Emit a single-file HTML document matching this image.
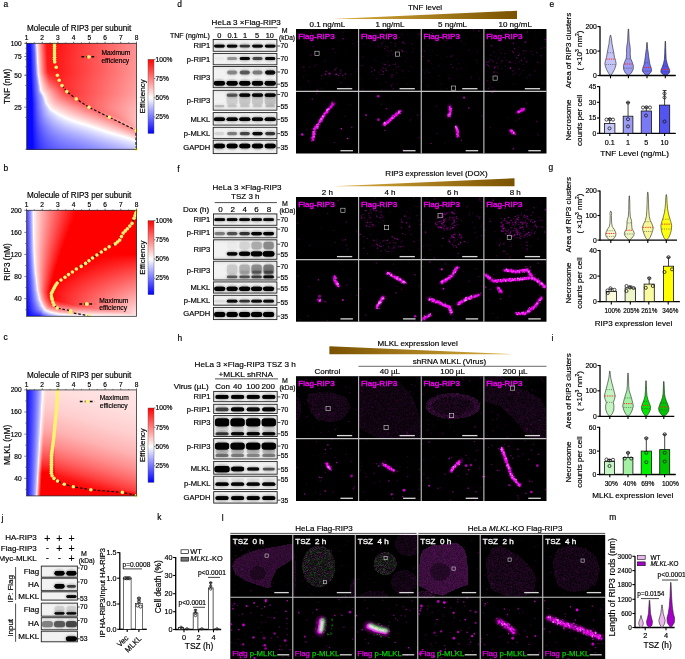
<!DOCTYPE html>
<html><head><meta charset="utf-8"><title>Figure</title>
<style>
html,body{margin:0;padding:0;background:#fff;}
body{width:685px;height:659px;overflow:hidden;position:relative;font-family:"Liberation Sans",sans-serif;}
canvas{position:absolute;left:0;top:0;}
svg{position:absolute;left:0;top:0;font-family:"Liberation Sans",sans-serif;}
</style></head><body>
<canvas id="cv" width="685" height="659"></canvas>
<svg width="685" height="659" viewBox="0 0 685 659">
<defs>
<linearGradient id="gold" x1="0" y1="0" x2="1" y2="0"><stop offset="0" stop-color="#dcb040"/><stop offset="1" stop-color="#7a5200"/></linearGradient>
<linearGradient id="goldr" x1="0" y1="0" x2="1" y2="0"><stop offset="0" stop-color="#7a5200"/><stop offset="1" stop-color="#dcb040"/></linearGradient>
<linearGradient id="cbar" x1="0" y1="0" x2="0" y2="1"><stop offset="0" stop-color="#ff0000"/><stop offset="0.52" stop-color="#ffffff"/><stop offset="1" stop-color="#0000ff"/></linearGradient>
</defs>
<text x="3.50" y="6.80" font-size="8.4" stroke="#000" stroke-width="0.18">a</text>
<text x="3.50" y="171.00" font-size="8.4" stroke="#000" stroke-width="0.18">b</text>
<text x="3.50" y="340.00" font-size="8.4" stroke="#000" stroke-width="0.18">c</text>
<path d="M62.00,85.60 L66.80,91.60 L76.20,98.90 L89.00,107.30 L109.40,117.30 L136.00,130.30 L136.00,149.30" fill="none" stroke="#111" stroke-width="1.2" stroke-dasharray="2.6 1.9"/>
<circle cx="54.50" cy="44.10" r="1.8" fill="#fff272"/>
<circle cx="54.50" cy="46.30" r="1.8" fill="#fff272"/>
<circle cx="54.50" cy="48.50" r="1.8" fill="#fff272"/>
<circle cx="54.50" cy="50.70" r="1.8" fill="#fff272"/>
<circle cx="54.50" cy="52.90" r="1.8" fill="#fff272"/>
<circle cx="54.50" cy="55.10" r="1.8" fill="#fff272"/>
<circle cx="54.50" cy="57.30" r="1.8" fill="#fff272"/>
<circle cx="54.50" cy="59.50" r="1.8" fill="#fff272"/>
<circle cx="54.70" cy="61.90" r="1.8" fill="#fff272"/>
<circle cx="56.20" cy="67.30" r="1.8" fill="#fff272"/>
<circle cx="57.40" cy="75.30" r="1.8" fill="#fff272"/>
<circle cx="59.20" cy="80.30" r="1.8" fill="#fff272"/>
<circle cx="62.00" cy="85.60" r="1.8" fill="#fff272"/>
<circle cx="66.80" cy="91.60" r="1.8" fill="#fff272"/>
<circle cx="76.20" cy="98.90" r="1.8" fill="#fff272"/>
<circle cx="89.00" cy="107.30" r="1.8" fill="#fff272"/>
<circle cx="109.40" cy="117.30" r="1.8" fill="#fff272"/>
<circle cx="136.00" cy="130.30" r="1.8" fill="#fff272"/>
<circle cx="136.00" cy="149.30" r="1.8" fill="#fff272"/>
<rect x="26.50" y="43.30" width="110.00" height="106.00" fill="none" stroke="#333" stroke-width="0.8"/>
<text x="79.20" y="30.90" font-size="8.2" text-anchor="middle" textLength="104.2" lengthAdjust="spacingAndGlyphs" stroke="#000" stroke-width="0.18">Molecule of RIP3 per subunit</text>
<text x="26.50" y="40.10" font-size="6.6" text-anchor="middle" stroke="#000" stroke-width="0.18">1</text>
<line x1="26.50" y1="43.30" x2="26.50" y2="41.70" stroke="#333" stroke-width="0.7"/>
<line x1="34.36" y1="43.30" x2="34.36" y2="42.30" stroke="#333" stroke-width="0.6"/>
<text x="42.21" y="40.10" font-size="6.6" text-anchor="middle" stroke="#000" stroke-width="0.18">2</text>
<line x1="42.21" y1="43.30" x2="42.21" y2="41.70" stroke="#333" stroke-width="0.7"/>
<line x1="50.07" y1="43.30" x2="50.07" y2="42.30" stroke="#333" stroke-width="0.6"/>
<text x="57.93" y="40.10" font-size="6.6" text-anchor="middle" stroke="#000" stroke-width="0.18">3</text>
<line x1="57.93" y1="43.30" x2="57.93" y2="41.70" stroke="#333" stroke-width="0.7"/>
<line x1="65.79" y1="43.30" x2="65.79" y2="42.30" stroke="#333" stroke-width="0.6"/>
<text x="73.64" y="40.10" font-size="6.6" text-anchor="middle" stroke="#000" stroke-width="0.18">4</text>
<line x1="73.64" y1="43.30" x2="73.64" y2="41.70" stroke="#333" stroke-width="0.7"/>
<line x1="81.50" y1="43.30" x2="81.50" y2="42.30" stroke="#333" stroke-width="0.6"/>
<text x="89.36" y="40.10" font-size="6.6" text-anchor="middle" stroke="#000" stroke-width="0.18">5</text>
<line x1="89.36" y1="43.30" x2="89.36" y2="41.70" stroke="#333" stroke-width="0.7"/>
<line x1="97.21" y1="43.30" x2="97.21" y2="42.30" stroke="#333" stroke-width="0.6"/>
<text x="105.07" y="40.10" font-size="6.6" text-anchor="middle" stroke="#000" stroke-width="0.18">6</text>
<line x1="105.07" y1="43.30" x2="105.07" y2="41.70" stroke="#333" stroke-width="0.7"/>
<line x1="112.93" y1="43.30" x2="112.93" y2="42.30" stroke="#333" stroke-width="0.6"/>
<text x="120.79" y="40.10" font-size="6.6" text-anchor="middle" stroke="#000" stroke-width="0.18">7</text>
<line x1="120.79" y1="43.30" x2="120.79" y2="41.70" stroke="#333" stroke-width="0.7"/>
<line x1="128.64" y1="43.30" x2="128.64" y2="42.30" stroke="#333" stroke-width="0.6"/>
<text x="136.50" y="40.10" font-size="6.6" text-anchor="middle" stroke="#000" stroke-width="0.18">8</text>
<line x1="136.50" y1="43.30" x2="136.50" y2="41.70" stroke="#333" stroke-width="0.7"/>
<rect x="148.00" y="59.30" width="6.00" height="74.20" fill="url(#cbar)" stroke="#555" stroke-width="0.4"/>
<line x1="154.00" y1="59.30" x2="155.50" y2="59.30" stroke="#333" stroke-width="0.6"/>
<text x="155.60" y="61.60" font-size="6.6" stroke="#000" stroke-width="0.18">100%</text>
<line x1="154.00" y1="78.52" x2="155.50" y2="78.52" stroke="#333" stroke-width="0.6"/>
<text x="155.60" y="80.82" font-size="6.6" stroke="#000" stroke-width="0.18">75%</text>
<line x1="154.00" y1="97.75" x2="155.50" y2="97.75" stroke="#333" stroke-width="0.6"/>
<text x="155.60" y="100.05" font-size="6.6" stroke="#000" stroke-width="0.18">50%</text>
<line x1="154.00" y1="116.97" x2="155.50" y2="116.97" stroke="#333" stroke-width="0.6"/>
<text x="155.60" y="119.27" font-size="6.6" stroke="#000" stroke-width="0.18">25%</text>
<text x="145.20" y="96.40" font-size="8" text-anchor="middle" transform="rotate(-90 145.20 96.40)" stroke="#000" stroke-width="0.18">Efficiency</text>
<line x1="81.40" y1="56.80" x2="96.50" y2="56.80" stroke="#111" stroke-width="1.5" stroke-dasharray="2.8 2.2"/>
<circle cx="88.90" cy="56.80" r="1.9" fill="#fff272"/>
<text x="101.40" y="55.40" font-size="6.7" stroke="#000" stroke-width="0.18">Maximum</text>
<text x="101.40" y="63.20" font-size="6.7" stroke="#000" stroke-width="0.18">efficiency</text>
<path d="M136.50,210.80 L135.80,213.30 L135.00,215.80 L134.00,218.30 L132.00,223.40 L129.80,226.10 L127.50,228.70 L125.30,230.90 L123.20,233.10 L121.50,236.60 L119.70,240.10 L117.50,242.00 L115.30,243.90 L109.20,246.70 L105.30,249.30 L101.30,252.00 L96.90,255.00 L92.50,258.00 L89.00,260.80 L85.60,263.40 L81.20,266.40 L76.30,269.00 L72.40,272.00 L68.50,274.60 L65.00,277.20 L61.00,280.00 L57.20,283.00 L56.00,284.70 L54.90,286.50 L54.00,288.30 L53.10,290.00 L52.20,291.80 L51.40,293.50 L51.40,296.10 L51.70,297.80 L52.20,299.60 L52.90,302.30 L54.00,304.90 L57.20,308.10 L70.70,310.70 L70.70,312.60 L89.00,315.80" fill="none" stroke="#111" stroke-width="1.2" stroke-dasharray="2.6 1.9"/>
<circle cx="136.50" cy="210.80" r="1.8" fill="#fff272"/>
<circle cx="135.80" cy="213.30" r="1.8" fill="#fff272"/>
<circle cx="135.00" cy="215.80" r="1.8" fill="#fff272"/>
<circle cx="134.00" cy="218.30" r="1.8" fill="#fff272"/>
<circle cx="132.00" cy="223.40" r="1.8" fill="#fff272"/>
<circle cx="129.80" cy="226.10" r="1.8" fill="#fff272"/>
<circle cx="127.50" cy="228.70" r="1.8" fill="#fff272"/>
<circle cx="125.30" cy="230.90" r="1.8" fill="#fff272"/>
<circle cx="123.20" cy="233.10" r="1.8" fill="#fff272"/>
<circle cx="121.50" cy="236.60" r="1.8" fill="#fff272"/>
<circle cx="119.70" cy="240.10" r="1.8" fill="#fff272"/>
<circle cx="117.50" cy="242.00" r="1.8" fill="#fff272"/>
<circle cx="115.30" cy="243.90" r="1.8" fill="#fff272"/>
<circle cx="109.20" cy="246.70" r="1.8" fill="#fff272"/>
<circle cx="105.30" cy="249.30" r="1.8" fill="#fff272"/>
<circle cx="101.30" cy="252.00" r="1.8" fill="#fff272"/>
<circle cx="96.90" cy="255.00" r="1.8" fill="#fff272"/>
<circle cx="92.50" cy="258.00" r="1.8" fill="#fff272"/>
<circle cx="89.00" cy="260.80" r="1.8" fill="#fff272"/>
<circle cx="85.60" cy="263.40" r="1.8" fill="#fff272"/>
<circle cx="81.20" cy="266.40" r="1.8" fill="#fff272"/>
<circle cx="76.30" cy="269.00" r="1.8" fill="#fff272"/>
<circle cx="72.40" cy="272.00" r="1.8" fill="#fff272"/>
<circle cx="68.50" cy="274.60" r="1.8" fill="#fff272"/>
<circle cx="65.00" cy="277.20" r="1.8" fill="#fff272"/>
<circle cx="61.00" cy="280.00" r="1.8" fill="#fff272"/>
<circle cx="57.20" cy="283.00" r="1.8" fill="#fff272"/>
<circle cx="56.00" cy="284.70" r="1.8" fill="#fff272"/>
<circle cx="54.90" cy="286.50" r="1.8" fill="#fff272"/>
<circle cx="54.00" cy="288.30" r="1.8" fill="#fff272"/>
<circle cx="53.10" cy="290.00" r="1.8" fill="#fff272"/>
<circle cx="52.20" cy="291.80" r="1.8" fill="#fff272"/>
<circle cx="51.40" cy="293.50" r="1.8" fill="#fff272"/>
<circle cx="51.40" cy="296.10" r="1.8" fill="#fff272"/>
<circle cx="51.70" cy="297.80" r="1.8" fill="#fff272"/>
<circle cx="52.20" cy="299.60" r="1.8" fill="#fff272"/>
<circle cx="52.90" cy="302.30" r="1.8" fill="#fff272"/>
<circle cx="54.00" cy="304.90" r="1.8" fill="#fff272"/>
<circle cx="57.20" cy="308.10" r="1.8" fill="#fff272"/>
<circle cx="70.70" cy="310.70" r="1.8" fill="#fff272"/>
<circle cx="70.70" cy="312.60" r="1.8" fill="#fff272"/>
<circle cx="89.00" cy="315.80" r="1.8" fill="#fff272"/>
<rect x="26.50" y="210.30" width="110.00" height="106.00" fill="none" stroke="#333" stroke-width="0.8"/>
<text x="79.20" y="197.90" font-size="8.2" text-anchor="middle" textLength="104.2" lengthAdjust="spacingAndGlyphs" stroke="#000" stroke-width="0.18">Molecule of RIP3 per subunit</text>
<text x="26.50" y="207.10" font-size="6.6" text-anchor="middle" stroke="#000" stroke-width="0.18">1</text>
<line x1="26.50" y1="210.30" x2="26.50" y2="208.70" stroke="#333" stroke-width="0.7"/>
<line x1="34.36" y1="210.30" x2="34.36" y2="209.30" stroke="#333" stroke-width="0.6"/>
<text x="42.21" y="207.10" font-size="6.6" text-anchor="middle" stroke="#000" stroke-width="0.18">2</text>
<line x1="42.21" y1="210.30" x2="42.21" y2="208.70" stroke="#333" stroke-width="0.7"/>
<line x1="50.07" y1="210.30" x2="50.07" y2="209.30" stroke="#333" stroke-width="0.6"/>
<text x="57.93" y="207.10" font-size="6.6" text-anchor="middle" stroke="#000" stroke-width="0.18">3</text>
<line x1="57.93" y1="210.30" x2="57.93" y2="208.70" stroke="#333" stroke-width="0.7"/>
<line x1="65.79" y1="210.30" x2="65.79" y2="209.30" stroke="#333" stroke-width="0.6"/>
<text x="73.64" y="207.10" font-size="6.6" text-anchor="middle" stroke="#000" stroke-width="0.18">4</text>
<line x1="73.64" y1="210.30" x2="73.64" y2="208.70" stroke="#333" stroke-width="0.7"/>
<line x1="81.50" y1="210.30" x2="81.50" y2="209.30" stroke="#333" stroke-width="0.6"/>
<text x="89.36" y="207.10" font-size="6.6" text-anchor="middle" stroke="#000" stroke-width="0.18">5</text>
<line x1="89.36" y1="210.30" x2="89.36" y2="208.70" stroke="#333" stroke-width="0.7"/>
<line x1="97.21" y1="210.30" x2="97.21" y2="209.30" stroke="#333" stroke-width="0.6"/>
<text x="105.07" y="207.10" font-size="6.6" text-anchor="middle" stroke="#000" stroke-width="0.18">6</text>
<line x1="105.07" y1="210.30" x2="105.07" y2="208.70" stroke="#333" stroke-width="0.7"/>
<line x1="112.93" y1="210.30" x2="112.93" y2="209.30" stroke="#333" stroke-width="0.6"/>
<text x="120.79" y="207.10" font-size="6.6" text-anchor="middle" stroke="#000" stroke-width="0.18">7</text>
<line x1="120.79" y1="210.30" x2="120.79" y2="208.70" stroke="#333" stroke-width="0.7"/>
<line x1="128.64" y1="210.30" x2="128.64" y2="209.30" stroke="#333" stroke-width="0.6"/>
<text x="136.50" y="207.10" font-size="6.6" text-anchor="middle" stroke="#000" stroke-width="0.18">8</text>
<line x1="136.50" y1="210.30" x2="136.50" y2="208.70" stroke="#333" stroke-width="0.7"/>
<rect x="148.00" y="220.60" width="6.00" height="74.10" fill="url(#cbar)" stroke="#555" stroke-width="0.4"/>
<line x1="154.00" y1="220.60" x2="155.50" y2="220.60" stroke="#333" stroke-width="0.6"/>
<text x="155.60" y="222.90" font-size="6.6" stroke="#000" stroke-width="0.18">100%</text>
<line x1="154.00" y1="239.80" x2="155.50" y2="239.80" stroke="#333" stroke-width="0.6"/>
<text x="155.60" y="242.10" font-size="6.6" stroke="#000" stroke-width="0.18">75%</text>
<line x1="154.00" y1="258.99" x2="155.50" y2="258.99" stroke="#333" stroke-width="0.6"/>
<text x="155.60" y="261.29" font-size="6.6" stroke="#000" stroke-width="0.18">50%</text>
<line x1="154.00" y1="278.19" x2="155.50" y2="278.19" stroke="#333" stroke-width="0.6"/>
<text x="155.60" y="280.49" font-size="6.6" stroke="#000" stroke-width="0.18">25%</text>
<text x="145.20" y="257.65" font-size="8" text-anchor="middle" transform="rotate(-90 145.20 257.65)" stroke="#000" stroke-width="0.18">Efficiency</text>
<line x1="79.30" y1="304.00" x2="94.40" y2="304.00" stroke="#111" stroke-width="1.5" stroke-dasharray="2.8 2.2"/>
<circle cx="86.80" cy="304.00" r="1.9" fill="#fff272"/>
<text x="99.30" y="302.60" font-size="6.7" stroke="#000" stroke-width="0.18">Maximum</text>
<text x="99.30" y="310.40" font-size="6.7" stroke="#000" stroke-width="0.18">efficiency</text>
<path d="M57.49,390.40 L57.45,392.20 L57.42,394.00 L57.38,395.80 L57.35,397.60 L57.31,399.40 L57.20,401.20 L57.05,403.00 L56.91,404.80 L56.76,406.60 L56.62,408.40 L56.47,410.20 L56.29,412.00 L56.11,413.80 L55.93,415.60 L55.75,417.40 L55.57,419.20 L55.39,421.00 L55.21,422.80 L55.03,424.60 L54.85,426.40 L54.67,428.20 L54.49,430.00 L54.31,431.80 L54.13,433.60 L53.95,435.40 L53.77,437.20 L53.59,439.00 L53.39,440.80 L53.16,442.60 L52.94,444.40 L52.71,446.20 L52.49,448.00 L52.23,449.80 L51.97,451.60 L51.71,453.40 L51.50,455.20 L51.49,457.00 L51.48,458.80 L51.47,460.60 L51.46,462.40 L51.45,464.20 L51.43,466.00 L51.42,467.80 L51.41,469.60 L51.40,471.40 L51.40,473.20 L52.10,475.70 L54.00,478.40 L57.50,481.00 L64.20,484.20 L73.30,486.80 L90.80,489.80 L122.30,492.40 L136.30,495.50" fill="none" stroke="#111" stroke-width="1.2" stroke-dasharray="2.6 1.9"/>
<circle cx="57.49" cy="390.40" r="1.8" fill="#fff272"/>
<circle cx="57.45" cy="392.20" r="1.8" fill="#fff272"/>
<circle cx="57.42" cy="394.00" r="1.8" fill="#fff272"/>
<circle cx="57.38" cy="395.80" r="1.8" fill="#fff272"/>
<circle cx="57.35" cy="397.60" r="1.8" fill="#fff272"/>
<circle cx="57.31" cy="399.40" r="1.8" fill="#fff272"/>
<circle cx="57.20" cy="401.20" r="1.8" fill="#fff272"/>
<circle cx="57.05" cy="403.00" r="1.8" fill="#fff272"/>
<circle cx="56.91" cy="404.80" r="1.8" fill="#fff272"/>
<circle cx="56.76" cy="406.60" r="1.8" fill="#fff272"/>
<circle cx="56.62" cy="408.40" r="1.8" fill="#fff272"/>
<circle cx="56.47" cy="410.20" r="1.8" fill="#fff272"/>
<circle cx="56.29" cy="412.00" r="1.8" fill="#fff272"/>
<circle cx="56.11" cy="413.80" r="1.8" fill="#fff272"/>
<circle cx="55.93" cy="415.60" r="1.8" fill="#fff272"/>
<circle cx="55.75" cy="417.40" r="1.8" fill="#fff272"/>
<circle cx="55.57" cy="419.20" r="1.8" fill="#fff272"/>
<circle cx="55.39" cy="421.00" r="1.8" fill="#fff272"/>
<circle cx="55.21" cy="422.80" r="1.8" fill="#fff272"/>
<circle cx="55.03" cy="424.60" r="1.8" fill="#fff272"/>
<circle cx="54.85" cy="426.40" r="1.8" fill="#fff272"/>
<circle cx="54.67" cy="428.20" r="1.8" fill="#fff272"/>
<circle cx="54.49" cy="430.00" r="1.8" fill="#fff272"/>
<circle cx="54.31" cy="431.80" r="1.8" fill="#fff272"/>
<circle cx="54.13" cy="433.60" r="1.8" fill="#fff272"/>
<circle cx="53.95" cy="435.40" r="1.8" fill="#fff272"/>
<circle cx="53.77" cy="437.20" r="1.8" fill="#fff272"/>
<circle cx="53.59" cy="439.00" r="1.8" fill="#fff272"/>
<circle cx="53.39" cy="440.80" r="1.8" fill="#fff272"/>
<circle cx="53.16" cy="442.60" r="1.8" fill="#fff272"/>
<circle cx="52.94" cy="444.40" r="1.8" fill="#fff272"/>
<circle cx="52.71" cy="446.20" r="1.8" fill="#fff272"/>
<circle cx="52.49" cy="448.00" r="1.8" fill="#fff272"/>
<circle cx="52.23" cy="449.80" r="1.8" fill="#fff272"/>
<circle cx="51.97" cy="451.60" r="1.8" fill="#fff272"/>
<circle cx="51.71" cy="453.40" r="1.8" fill="#fff272"/>
<circle cx="51.50" cy="455.20" r="1.8" fill="#fff272"/>
<circle cx="51.49" cy="457.00" r="1.8" fill="#fff272"/>
<circle cx="51.48" cy="458.80" r="1.8" fill="#fff272"/>
<circle cx="51.47" cy="460.60" r="1.8" fill="#fff272"/>
<circle cx="51.46" cy="462.40" r="1.8" fill="#fff272"/>
<circle cx="51.45" cy="464.20" r="1.8" fill="#fff272"/>
<circle cx="51.43" cy="466.00" r="1.8" fill="#fff272"/>
<circle cx="51.42" cy="467.80" r="1.8" fill="#fff272"/>
<circle cx="51.41" cy="469.60" r="1.8" fill="#fff272"/>
<circle cx="51.40" cy="471.40" r="1.8" fill="#fff272"/>
<circle cx="51.40" cy="473.20" r="1.8" fill="#fff272"/>
<circle cx="52.10" cy="475.70" r="1.8" fill="#fff272"/>
<circle cx="54.00" cy="478.40" r="1.8" fill="#fff272"/>
<circle cx="57.50" cy="481.00" r="1.8" fill="#fff272"/>
<circle cx="64.20" cy="484.20" r="1.8" fill="#fff272"/>
<circle cx="73.30" cy="486.80" r="1.8" fill="#fff272"/>
<circle cx="90.80" cy="489.80" r="1.8" fill="#fff272"/>
<circle cx="122.30" cy="492.40" r="1.8" fill="#fff272"/>
<circle cx="136.30" cy="495.50" r="1.8" fill="#fff272"/>
<rect x="26.50" y="389.90" width="110.00" height="106.00" fill="none" stroke="#333" stroke-width="0.8"/>
<text x="79.20" y="377.50" font-size="8.2" text-anchor="middle" textLength="104.2" lengthAdjust="spacingAndGlyphs" stroke="#000" stroke-width="0.18">Molecule of RIP3 per subunit</text>
<text x="26.50" y="386.70" font-size="6.6" text-anchor="middle" stroke="#000" stroke-width="0.18">1</text>
<line x1="26.50" y1="389.90" x2="26.50" y2="388.30" stroke="#333" stroke-width="0.7"/>
<line x1="34.36" y1="389.90" x2="34.36" y2="388.90" stroke="#333" stroke-width="0.6"/>
<text x="42.21" y="386.70" font-size="6.6" text-anchor="middle" stroke="#000" stroke-width="0.18">2</text>
<line x1="42.21" y1="389.90" x2="42.21" y2="388.30" stroke="#333" stroke-width="0.7"/>
<line x1="50.07" y1="389.90" x2="50.07" y2="388.90" stroke="#333" stroke-width="0.6"/>
<text x="57.93" y="386.70" font-size="6.6" text-anchor="middle" stroke="#000" stroke-width="0.18">3</text>
<line x1="57.93" y1="389.90" x2="57.93" y2="388.30" stroke="#333" stroke-width="0.7"/>
<line x1="65.79" y1="389.90" x2="65.79" y2="388.90" stroke="#333" stroke-width="0.6"/>
<text x="73.64" y="386.70" font-size="6.6" text-anchor="middle" stroke="#000" stroke-width="0.18">4</text>
<line x1="73.64" y1="389.90" x2="73.64" y2="388.30" stroke="#333" stroke-width="0.7"/>
<line x1="81.50" y1="389.90" x2="81.50" y2="388.90" stroke="#333" stroke-width="0.6"/>
<text x="89.36" y="386.70" font-size="6.6" text-anchor="middle" stroke="#000" stroke-width="0.18">5</text>
<line x1="89.36" y1="389.90" x2="89.36" y2="388.30" stroke="#333" stroke-width="0.7"/>
<line x1="97.21" y1="389.90" x2="97.21" y2="388.90" stroke="#333" stroke-width="0.6"/>
<text x="105.07" y="386.70" font-size="6.6" text-anchor="middle" stroke="#000" stroke-width="0.18">6</text>
<line x1="105.07" y1="389.90" x2="105.07" y2="388.30" stroke="#333" stroke-width="0.7"/>
<line x1="112.93" y1="389.90" x2="112.93" y2="388.90" stroke="#333" stroke-width="0.6"/>
<text x="120.79" y="386.70" font-size="6.6" text-anchor="middle" stroke="#000" stroke-width="0.18">7</text>
<line x1="120.79" y1="389.90" x2="120.79" y2="388.30" stroke="#333" stroke-width="0.7"/>
<line x1="128.64" y1="389.90" x2="128.64" y2="388.90" stroke="#333" stroke-width="0.6"/>
<text x="136.50" y="386.70" font-size="6.6" text-anchor="middle" stroke="#000" stroke-width="0.18">8</text>
<line x1="136.50" y1="389.90" x2="136.50" y2="388.30" stroke="#333" stroke-width="0.7"/>
<rect x="148.00" y="408.00" width="6.00" height="74.40" fill="url(#cbar)" stroke="#555" stroke-width="0.4"/>
<line x1="154.00" y1="408.00" x2="155.50" y2="408.00" stroke="#333" stroke-width="0.6"/>
<text x="155.60" y="410.30" font-size="6.6" stroke="#000" stroke-width="0.18">100%</text>
<line x1="154.00" y1="427.27" x2="155.50" y2="427.27" stroke="#333" stroke-width="0.6"/>
<text x="155.60" y="429.57" font-size="6.6" stroke="#000" stroke-width="0.18">75%</text>
<line x1="154.00" y1="446.55" x2="155.50" y2="446.55" stroke="#333" stroke-width="0.6"/>
<text x="155.60" y="448.85" font-size="6.6" stroke="#000" stroke-width="0.18">50%</text>
<line x1="154.00" y1="465.82" x2="155.50" y2="465.82" stroke="#333" stroke-width="0.6"/>
<text x="155.60" y="468.12" font-size="6.6" stroke="#000" stroke-width="0.18">25%</text>
<text x="145.20" y="445.20" font-size="8" text-anchor="middle" transform="rotate(-90 145.20 445.20)" stroke="#000" stroke-width="0.18">Efficiency</text>
<line x1="79.80" y1="401.60" x2="94.90" y2="401.60" stroke="#111" stroke-width="1.5" stroke-dasharray="2.8 2.2"/>
<circle cx="87.30" cy="401.60" r="1.9" fill="#fff272"/>
<text x="99.80" y="400.20" font-size="6.7" stroke="#000" stroke-width="0.18">Maximum</text>
<text x="99.80" y="408.00" font-size="6.7" stroke="#000" stroke-width="0.18">efficiency</text>
<line x1="25.20" y1="149.30" x2="26.50" y2="149.30" stroke="#333" stroke-width="0.6"/>
<line x1="25.20" y1="117.39" x2="26.50" y2="117.39" stroke="#333" stroke-width="0.6"/>
<line x1="25.20" y1="98.73" x2="26.50" y2="98.73" stroke="#333" stroke-width="0.6"/>
<line x1="25.20" y1="85.48" x2="26.50" y2="85.48" stroke="#333" stroke-width="0.6"/>
<line x1="25.20" y1="75.21" x2="26.50" y2="75.21" stroke="#333" stroke-width="0.6"/>
<line x1="25.20" y1="66.82" x2="26.50" y2="66.82" stroke="#333" stroke-width="0.6"/>
<line x1="25.20" y1="59.72" x2="26.50" y2="59.72" stroke="#333" stroke-width="0.6"/>
<line x1="25.20" y1="53.57" x2="26.50" y2="53.57" stroke="#333" stroke-width="0.6"/>
<line x1="25.20" y1="48.15" x2="26.50" y2="48.15" stroke="#333" stroke-width="0.6"/>
<line x1="25.20" y1="43.30" x2="26.50" y2="43.30" stroke="#333" stroke-width="0.6"/>
<line x1="24.30" y1="43.30" x2="26.50" y2="43.30" stroke="#333" stroke-width="0.7"/>
<text x="21.70" y="45.70" font-size="6.6" text-anchor="end" stroke="#000" stroke-width="0.18">100</text>
<line x1="24.30" y1="56.54" x2="26.50" y2="56.54" stroke="#333" stroke-width="0.7"/>
<text x="21.70" y="58.94" font-size="6.6" text-anchor="end" stroke="#000" stroke-width="0.18">75</text>
<line x1="24.30" y1="75.21" x2="26.50" y2="75.21" stroke="#333" stroke-width="0.7"/>
<text x="21.70" y="77.61" font-size="6.6" text-anchor="end" stroke="#000" stroke-width="0.18">50</text>
<line x1="24.30" y1="107.12" x2="26.50" y2="107.12" stroke="#333" stroke-width="0.7"/>
<text x="21.70" y="109.52" font-size="6.6" text-anchor="end" stroke="#000" stroke-width="0.18">25</text>
<line x1="25.20" y1="309.75" x2="26.50" y2="309.75" stroke="#333" stroke-width="0.6"/>
<line x1="24.30" y1="298.70" x2="26.50" y2="298.70" stroke="#333" stroke-width="0.6"/>
<line x1="25.20" y1="287.65" x2="26.50" y2="287.65" stroke="#333" stroke-width="0.6"/>
<line x1="24.30" y1="276.60" x2="26.50" y2="276.60" stroke="#333" stroke-width="0.6"/>
<line x1="25.20" y1="265.55" x2="26.50" y2="265.55" stroke="#333" stroke-width="0.6"/>
<line x1="24.30" y1="254.50" x2="26.50" y2="254.50" stroke="#333" stroke-width="0.6"/>
<line x1="25.20" y1="243.45" x2="26.50" y2="243.45" stroke="#333" stroke-width="0.6"/>
<line x1="24.30" y1="232.40" x2="26.50" y2="232.40" stroke="#333" stroke-width="0.6"/>
<line x1="25.20" y1="221.35" x2="26.50" y2="221.35" stroke="#333" stroke-width="0.6"/>
<line x1="24.30" y1="210.30" x2="26.50" y2="210.30" stroke="#333" stroke-width="0.6"/>
<text x="21.70" y="212.70" font-size="6.6" text-anchor="end" stroke="#000" stroke-width="0.18">200</text>
<text x="21.70" y="234.80" font-size="6.6" text-anchor="end" stroke="#000" stroke-width="0.18">160</text>
<text x="21.70" y="256.90" font-size="6.6" text-anchor="end" stroke="#000" stroke-width="0.18">120</text>
<text x="21.70" y="279.00" font-size="6.6" text-anchor="end" stroke="#000" stroke-width="0.18">80</text>
<text x="21.70" y="301.10" font-size="6.6" text-anchor="end" stroke="#000" stroke-width="0.18">40</text>
<line x1="25.20" y1="489.35" x2="26.50" y2="489.35" stroke="#333" stroke-width="0.6"/>
<line x1="24.30" y1="478.30" x2="26.50" y2="478.30" stroke="#333" stroke-width="0.6"/>
<line x1="25.20" y1="467.25" x2="26.50" y2="467.25" stroke="#333" stroke-width="0.6"/>
<line x1="24.30" y1="456.20" x2="26.50" y2="456.20" stroke="#333" stroke-width="0.6"/>
<line x1="25.20" y1="445.15" x2="26.50" y2="445.15" stroke="#333" stroke-width="0.6"/>
<line x1="24.30" y1="434.10" x2="26.50" y2="434.10" stroke="#333" stroke-width="0.6"/>
<line x1="25.20" y1="423.05" x2="26.50" y2="423.05" stroke="#333" stroke-width="0.6"/>
<line x1="24.30" y1="412.00" x2="26.50" y2="412.00" stroke="#333" stroke-width="0.6"/>
<line x1="25.20" y1="400.95" x2="26.50" y2="400.95" stroke="#333" stroke-width="0.6"/>
<line x1="24.30" y1="389.90" x2="26.50" y2="389.90" stroke="#333" stroke-width="0.6"/>
<text x="21.70" y="392.30" font-size="6.6" text-anchor="end" stroke="#000" stroke-width="0.18">200</text>
<text x="21.70" y="414.40" font-size="6.6" text-anchor="end" stroke="#000" stroke-width="0.18">160</text>
<text x="21.70" y="436.50" font-size="6.6" text-anchor="end" stroke="#000" stroke-width="0.18">120</text>
<text x="21.70" y="458.60" font-size="6.6" text-anchor="end" stroke="#000" stroke-width="0.18">80</text>
<text x="21.70" y="480.70" font-size="6.6" text-anchor="end" stroke="#000" stroke-width="0.18">40</text>
<text x="10.30" y="86.40" font-size="8.2" text-anchor="middle" transform="rotate(-90 10.30 86.40)" stroke="#000" stroke-width="0.18">TNF (nM)</text>
<text x="10.30" y="262.00" font-size="8.2" text-anchor="middle" transform="rotate(-90 10.30 262.00)" stroke="#000" stroke-width="0.18">RIP3 (nM)</text>
<text x="10.30" y="445.00" font-size="8.2" text-anchor="middle" transform="rotate(-90 10.30 445.00)" stroke="#000" stroke-width="0.18">MLKL (nM)</text>
<rect x="213.20" y="39.50" width="63.70" height="11.80" fill="none" stroke="#222" stroke-width="0.9"/>
<text x="210.30" y="48.10" font-size="7.6" text-anchor="end" stroke="#000" stroke-width="0.18">RIP1</text>
<line x1="277.20" y1="46.00" x2="280.10" y2="46.00" stroke="#222" stroke-width="0.8"/>
<text x="280.40" y="48.40" font-size="6.8" stroke="#000" stroke-width="0.18">70</text>
<rect x="213.20" y="53.40" width="63.70" height="11.40" fill="none" stroke="#222" stroke-width="0.9"/>
<text x="210.30" y="61.80" font-size="7.6" text-anchor="end" stroke="#000" stroke-width="0.18">p-RIP1</text>
<line x1="277.20" y1="58.60" x2="280.10" y2="58.60" stroke="#222" stroke-width="0.8"/>
<text x="280.40" y="61.00" font-size="6.8" stroke="#000" stroke-width="0.18">70</text>
<rect x="213.20" y="66.50" width="63.70" height="21.20" fill="none" stroke="#222" stroke-width="0.9"/>
<text x="210.30" y="79.80" font-size="7.6" text-anchor="end" stroke="#000" stroke-width="0.18">RIP3</text>
<line x1="277.20" y1="72.00" x2="280.10" y2="72.00" stroke="#222" stroke-width="0.8"/>
<text x="280.40" y="74.40" font-size="6.8" stroke="#000" stroke-width="0.18">70</text>
<line x1="277.20" y1="84.20" x2="280.10" y2="84.20" stroke="#222" stroke-width="0.8"/>
<text x="280.40" y="86.60" font-size="6.8" stroke="#000" stroke-width="0.18">55</text>
<rect x="213.20" y="90.30" width="63.70" height="19.90" fill="none" stroke="#222" stroke-width="0.9"/>
<text x="210.30" y="102.95" font-size="7.6" text-anchor="end" stroke="#000" stroke-width="0.18">p-RIP3</text>
<line x1="277.20" y1="94.50" x2="280.10" y2="94.50" stroke="#222" stroke-width="0.8"/>
<text x="280.40" y="96.90" font-size="6.8" stroke="#000" stroke-width="0.18">70</text>
<line x1="277.20" y1="106.50" x2="280.10" y2="106.50" stroke="#222" stroke-width="0.8"/>
<text x="280.40" y="108.90" font-size="6.8" stroke="#000" stroke-width="0.18">55</text>
<rect x="213.20" y="112.60" width="63.70" height="12.50" fill="none" stroke="#222" stroke-width="0.9"/>
<text x="210.30" y="121.55" font-size="7.6" text-anchor="end" stroke="#000" stroke-width="0.18">MLKL</text>
<line x1="277.20" y1="119.40" x2="280.10" y2="119.40" stroke="#222" stroke-width="0.8"/>
<text x="280.40" y="121.80" font-size="6.8" stroke="#000" stroke-width="0.18">55</text>
<rect x="213.20" y="127.30" width="63.70" height="11.30" fill="none" stroke="#222" stroke-width="0.9"/>
<text x="210.30" y="135.65" font-size="7.6" text-anchor="end" stroke="#000" stroke-width="0.18">p-MLKL</text>
<line x1="277.20" y1="133.60" x2="280.10" y2="133.60" stroke="#222" stroke-width="0.8"/>
<text x="280.40" y="136.00" font-size="6.8" stroke="#000" stroke-width="0.18">55</text>
<rect x="213.20" y="140.20" width="63.70" height="13.40" fill="none" stroke="#222" stroke-width="0.9"/>
<text x="210.30" y="149.60" font-size="7.6" text-anchor="end" stroke="#000" stroke-width="0.18">GAPDH</text>
<line x1="277.20" y1="147.80" x2="280.10" y2="147.80" stroke="#222" stroke-width="0.8"/>
<text x="280.40" y="150.20" font-size="6.8" stroke="#000" stroke-width="0.18">35</text>
<text x="211.60" y="24.50" font-size="8" textLength="69.2" lengthAdjust="spacingAndGlyphs" stroke="#000" stroke-width="0.18">HeLa 3 ×Flag-RIP3</text>
<line x1="214.80" y1="27.70" x2="277.50" y2="27.70" stroke="#222" stroke-width="0.8"/>
<text x="169.90" y="38.40" font-size="7" textLength="40" lengthAdjust="spacingAndGlyphs" stroke="#000" stroke-width="0.18">TNF (ng/mL)</text>
<text x="219.40" y="38.40" font-size="7.4" text-anchor="middle" stroke="#000" stroke-width="0.18">0</text>
<text x="232.60" y="38.40" font-size="7.4" text-anchor="middle" stroke="#000" stroke-width="0.18">0.1</text>
<text x="245.10" y="38.40" font-size="7.4" text-anchor="middle" stroke="#000" stroke-width="0.18">1</text>
<text x="257.00" y="38.40" font-size="7.4" text-anchor="middle" stroke="#000" stroke-width="0.18">5</text>
<text x="269.80" y="38.40" font-size="7.4" text-anchor="middle" stroke="#000" stroke-width="0.18">10</text>
<text x="284.60" y="33.00" font-size="7" text-anchor="middle" stroke="#000" stroke-width="0.18">M</text>
<text x="287.00" y="40.30" font-size="7" text-anchor="middle" textLength="16" lengthAdjust="spacingAndGlyphs" stroke="#000" stroke-width="0.18">(kDa)</text>
<text x="177.20" y="7.30" font-size="8.4" stroke="#000" stroke-width="0.18">d</text>
<rect x="213.50" y="213.90" width="63.40" height="11.40" fill="none" stroke="#222" stroke-width="0.9"/>
<text x="210.30" y="222.30" font-size="7.6" text-anchor="end" stroke="#000" stroke-width="0.18">RIP1</text>
<line x1="277.20" y1="219.70" x2="280.10" y2="219.70" stroke="#222" stroke-width="0.8"/>
<text x="280.40" y="222.10" font-size="6.8" stroke="#000" stroke-width="0.18">70</text>
<rect x="213.50" y="227.30" width="63.40" height="10.50" fill="none" stroke="#222" stroke-width="0.9"/>
<text x="210.30" y="235.25" font-size="7.6" text-anchor="end" stroke="#000" stroke-width="0.18">p-RIP1</text>
<line x1="277.20" y1="229.20" x2="280.10" y2="229.20" stroke="#222" stroke-width="0.8"/>
<text x="280.40" y="231.60" font-size="6.8" stroke="#000" stroke-width="0.18">70</text>
<rect x="213.50" y="239.80" width="63.40" height="19.50" fill="none" stroke="#222" stroke-width="0.9"/>
<text x="210.30" y="252.25" font-size="7.6" text-anchor="end" stroke="#000" stroke-width="0.18">RIP3</text>
<line x1="277.20" y1="244.20" x2="280.10" y2="244.20" stroke="#222" stroke-width="0.8"/>
<text x="280.40" y="246.60" font-size="6.8" stroke="#000" stroke-width="0.18">70</text>
<line x1="277.20" y1="254.20" x2="280.10" y2="254.20" stroke="#222" stroke-width="0.8"/>
<text x="280.40" y="256.60" font-size="6.8" stroke="#000" stroke-width="0.18">55</text>
<rect x="213.50" y="261.20" width="63.40" height="18.80" fill="none" stroke="#222" stroke-width="0.9"/>
<text x="210.30" y="273.30" font-size="7.6" text-anchor="end" stroke="#000" stroke-width="0.18">p-RIP3</text>
<line x1="277.20" y1="266.50" x2="280.10" y2="266.50" stroke="#222" stroke-width="0.8"/>
<text x="280.40" y="268.90" font-size="6.8" stroke="#000" stroke-width="0.18">70</text>
<line x1="277.20" y1="277.20" x2="280.10" y2="277.20" stroke="#222" stroke-width="0.8"/>
<text x="280.40" y="279.60" font-size="6.8" stroke="#000" stroke-width="0.18">55</text>
<rect x="213.50" y="281.90" width="63.40" height="11.20" fill="none" stroke="#222" stroke-width="0.9"/>
<text x="210.30" y="290.20" font-size="7.6" text-anchor="end" stroke="#000" stroke-width="0.18">MLKL</text>
<line x1="277.20" y1="289.00" x2="280.10" y2="289.00" stroke="#222" stroke-width="0.8"/>
<text x="280.40" y="291.40" font-size="6.8" stroke="#000" stroke-width="0.18">55</text>
<rect x="213.50" y="295.30" width="63.40" height="9.90" fill="none" stroke="#222" stroke-width="0.9"/>
<text x="210.30" y="302.95" font-size="7.6" text-anchor="end" stroke="#000" stroke-width="0.18">p-MLKL</text>
<line x1="277.20" y1="302.60" x2="280.10" y2="302.60" stroke="#222" stroke-width="0.8"/>
<text x="280.40" y="305.00" font-size="6.8" stroke="#000" stroke-width="0.18">55</text>
<rect x="213.50" y="307.40" width="63.40" height="12.20" fill="none" stroke="#222" stroke-width="0.9"/>
<text x="210.30" y="316.20" font-size="7.6" text-anchor="end" stroke="#000" stroke-width="0.18">GAPDH</text>
<line x1="277.20" y1="316.20" x2="280.10" y2="316.20" stroke="#222" stroke-width="0.8"/>
<text x="280.40" y="318.60" font-size="6.8" stroke="#000" stroke-width="0.18">35</text>
<text x="212.50" y="189.90" font-size="8" textLength="69" lengthAdjust="spacingAndGlyphs" stroke="#000" stroke-width="0.18">HeLa 3 ×Flag-RIP3</text>
<text x="245.30" y="199.40" font-size="8" text-anchor="middle" stroke="#000" stroke-width="0.18">TSZ 3 h</text>
<line x1="214.70" y1="202.60" x2="276.90" y2="202.60" stroke="#222" stroke-width="0.8"/>
<text x="183.00" y="211.90" font-size="8" stroke="#000" stroke-width="0.18">Dox (h)</text>
<text x="220.40" y="211.90" font-size="8" text-anchor="middle" stroke="#000" stroke-width="0.18">0</text>
<text x="232.80" y="211.90" font-size="8" text-anchor="middle" stroke="#000" stroke-width="0.18">2</text>
<text x="244.70" y="211.90" font-size="8" text-anchor="middle" stroke="#000" stroke-width="0.18">4</text>
<text x="256.50" y="211.90" font-size="8" text-anchor="middle" stroke="#000" stroke-width="0.18">6</text>
<text x="269.00" y="211.90" font-size="8" text-anchor="middle" stroke="#000" stroke-width="0.18">8</text>
<text x="285.00" y="205.80" font-size="7" text-anchor="middle" stroke="#000" stroke-width="0.18">M</text>
<text x="287.40" y="212.60" font-size="7" text-anchor="middle" textLength="16" lengthAdjust="spacingAndGlyphs" stroke="#000" stroke-width="0.18">(kDa)</text>
<text x="177.20" y="172.00" font-size="8.4" stroke="#000" stroke-width="0.18">f</text>
<rect x="213.70" y="391.40" width="63.50" height="10.30" fill="none" stroke="#222" stroke-width="0.9"/>
<text x="210.50" y="399.25" font-size="7.6" text-anchor="end" stroke="#000" stroke-width="0.18">RIP1</text>
<line x1="277.50" y1="396.90" x2="280.40" y2="396.90" stroke="#222" stroke-width="0.8"/>
<text x="280.70" y="399.30" font-size="6.8" stroke="#000" stroke-width="0.18">70</text>
<rect x="213.70" y="404.30" width="63.50" height="9.20" fill="none" stroke="#222" stroke-width="0.9"/>
<text x="210.50" y="411.60" font-size="7.6" text-anchor="end" stroke="#000" stroke-width="0.18">p-RIP1</text>
<line x1="277.50" y1="409.40" x2="280.40" y2="409.40" stroke="#222" stroke-width="0.8"/>
<text x="280.70" y="411.80" font-size="6.8" stroke="#000" stroke-width="0.18">70</text>
<rect x="213.70" y="415.60" width="63.50" height="20.90" fill="none" stroke="#222" stroke-width="0.9"/>
<text x="210.50" y="424.90" font-size="7.6" text-anchor="end" stroke="#000" stroke-width="0.18">RIP3</text>
<line x1="277.50" y1="422.50" x2="280.40" y2="422.50" stroke="#222" stroke-width="0.8"/>
<text x="280.70" y="424.90" font-size="6.8" stroke="#000" stroke-width="0.18">70</text>
<line x1="277.50" y1="433.80" x2="280.40" y2="433.80" stroke="#222" stroke-width="0.8"/>
<text x="280.70" y="436.20" font-size="6.8" stroke="#000" stroke-width="0.18">55</text>
<rect x="213.70" y="438.60" width="63.50" height="20.40" fill="none" stroke="#222" stroke-width="0.9"/>
<text x="210.50" y="449.30" font-size="7.6" text-anchor="end" stroke="#000" stroke-width="0.18">p-RIP3</text>
<line x1="277.50" y1="446.10" x2="280.40" y2="446.10" stroke="#222" stroke-width="0.8"/>
<text x="280.70" y="448.50" font-size="6.8" stroke="#000" stroke-width="0.18">70</text>
<line x1="277.50" y1="455.40" x2="280.40" y2="455.40" stroke="#222" stroke-width="0.8"/>
<text x="280.70" y="457.80" font-size="6.8" stroke="#000" stroke-width="0.18">55</text>
<rect x="213.70" y="461.40" width="63.50" height="12.80" fill="none" stroke="#222" stroke-width="0.9"/>
<text x="210.50" y="470.50" font-size="7.6" text-anchor="end" stroke="#000" stroke-width="0.18">MLKL</text>
<line x1="277.50" y1="469.10" x2="280.40" y2="469.10" stroke="#222" stroke-width="0.8"/>
<text x="280.70" y="471.50" font-size="6.8" stroke="#000" stroke-width="0.18">55</text>
<rect x="213.70" y="476.20" width="63.50" height="13.30" fill="none" stroke="#222" stroke-width="0.9"/>
<text x="210.50" y="485.55" font-size="7.6" text-anchor="end" stroke="#000" stroke-width="0.18">p-MLKL</text>
<line x1="277.50" y1="480.00" x2="280.40" y2="480.00" stroke="#222" stroke-width="0.8"/>
<text x="280.70" y="482.40" font-size="6.8" stroke="#000" stroke-width="0.18">55</text>
<rect x="213.70" y="491.60" width="63.50" height="11.50" fill="none" stroke="#222" stroke-width="0.9"/>
<text x="210.50" y="500.05" font-size="7.6" text-anchor="end" stroke="#000" stroke-width="0.18">GAPDH</text>
<line x1="277.50" y1="500.20" x2="280.40" y2="500.20" stroke="#222" stroke-width="0.8"/>
<text x="280.70" y="502.60" font-size="6.8" stroke="#000" stroke-width="0.18">35</text>
<text x="194.50" y="366.90" font-size="8" textLength="101.3" lengthAdjust="spacingAndGlyphs" stroke="#000" stroke-width="0.18">HeLa 3 ×Flag-RIP3 TSZ 3 h</text>
<text x="218.50" y="376.50" font-size="8" textLength="54.6" lengthAdjust="spacingAndGlyphs" stroke="#000" stroke-width="0.18">+MLKL shRNA</text>
<line x1="215.00" y1="378.90" x2="278.00" y2="378.90" stroke="#222" stroke-width="0.8"/>
<text x="173.70" y="389.30" font-size="8" textLength="34.9" lengthAdjust="spacingAndGlyphs" stroke="#000" stroke-width="0.18">Virus (µL)</text>
<text x="222.60" y="389.30" font-size="8" text-anchor="middle" stroke="#000" stroke-width="0.18">Con</text>
<text x="237.50" y="389.30" font-size="8" text-anchor="middle" stroke="#000" stroke-width="0.18">40</text>
<text x="253.00" y="389.30" font-size="8" text-anchor="middle" stroke="#000" stroke-width="0.18">100</text>
<text x="268.30" y="389.30" font-size="8" text-anchor="middle" stroke="#000" stroke-width="0.18">200</text>
<text x="284.80" y="383.00" font-size="7" text-anchor="middle" stroke="#000" stroke-width="0.18">M</text>
<text x="287.40" y="390.00" font-size="7" text-anchor="middle" textLength="16" lengthAdjust="spacingAndGlyphs" stroke="#000" stroke-width="0.18">(kDa)</text>
<text x="177.50" y="341.00" font-size="8.4" stroke="#000" stroke-width="0.18">h</text>
<rect x="41.30" y="566.10" width="36.10" height="11.10" fill="none" stroke="#222" stroke-width="0.9"/>
<text x="39.20" y="574.35" font-size="8" text-anchor="end" stroke="#000" stroke-width="0.18">Flag</text>
<line x1="77.70" y1="568.00" x2="79.70" y2="568.00" stroke="#222" stroke-width="0.8"/>
<text x="80.00" y="570.40" font-size="6.8" stroke="#000" stroke-width="0.18">70</text>
<rect x="41.30" y="578.20" width="36.10" height="12.50" fill="none" stroke="#222" stroke-width="0.9"/>
<text x="39.20" y="587.15" font-size="8" text-anchor="end" stroke="#000" stroke-width="0.18">HA</text>
<line x1="77.70" y1="582.00" x2="79.70" y2="582.00" stroke="#222" stroke-width="0.8"/>
<text x="80.00" y="584.40" font-size="6.8" stroke="#000" stroke-width="0.18">70</text>
<rect x="41.30" y="591.80" width="36.10" height="8.30" fill="none" stroke="#222" stroke-width="0.9"/>
<text x="39.20" y="598.65" font-size="8" text-anchor="end" stroke="#000" stroke-width="0.18">MLKL</text>
<line x1="77.70" y1="598.80" x2="79.70" y2="598.80" stroke="#222" stroke-width="0.8"/>
<text x="80.00" y="601.20" font-size="6.8" stroke="#000" stroke-width="0.18">53</text>
<rect x="41.30" y="603.10" width="36.10" height="13.10" fill="none" stroke="#222" stroke-width="0.9"/>
<text x="39.20" y="612.35" font-size="8" text-anchor="end" stroke="#000" stroke-width="0.18">Flag</text>
<line x1="77.70" y1="607.00" x2="79.70" y2="607.00" stroke="#222" stroke-width="0.8"/>
<text x="80.00" y="609.40" font-size="6.8" stroke="#000" stroke-width="0.18">70</text>
<rect x="41.30" y="617.70" width="36.10" height="12.10" fill="none" stroke="#222" stroke-width="0.9"/>
<text x="39.20" y="626.45" font-size="8" text-anchor="end" stroke="#000" stroke-width="0.18">HA</text>
<line x1="77.70" y1="620.50" x2="79.70" y2="620.50" stroke="#222" stroke-width="0.8"/>
<text x="80.00" y="622.90" font-size="6.8" stroke="#000" stroke-width="0.18">70</text>
<rect x="41.30" y="631.20" width="36.10" height="10.60" fill="none" stroke="#222" stroke-width="0.9"/>
<text x="39.20" y="639.20" font-size="8" text-anchor="end" stroke="#000" stroke-width="0.18">MLKL</text>
<line x1="77.70" y1="638.80" x2="79.70" y2="638.80" stroke="#222" stroke-width="0.8"/>
<text x="80.00" y="641.20" font-size="6.8" stroke="#000" stroke-width="0.18">53</text>
<text x="1.50" y="520.50" font-size="8.4" stroke="#000" stroke-width="0.18">j</text>
<text x="36.80" y="539.70" font-size="8" text-anchor="end" stroke="#000" stroke-width="0.18">HA-RIP3</text>
<text x="47.40" y="542.10" font-size="10.5" text-anchor="middle" stroke="#000" stroke-width="0.18">+</text>
<text x="59.30" y="542.10" font-size="10.5" text-anchor="middle" stroke="#000" stroke-width="0.18">+</text>
<text x="71.60" y="542.10" font-size="10.5" text-anchor="middle" stroke="#000" stroke-width="0.18">+</text>
<text x="36.80" y="551.00" font-size="8" text-anchor="end" stroke="#000" stroke-width="0.18">Flag-RIP3</text>
<text x="47.40" y="551.20" font-size="8.5" text-anchor="middle" stroke="#000" stroke-width="0.18">-</text>
<text x="59.30" y="552.40" font-size="10.5" text-anchor="middle" stroke="#000" stroke-width="0.18">+</text>
<text x="71.60" y="552.40" font-size="10.5" text-anchor="middle" stroke="#000" stroke-width="0.18">+</text>
<text x="36.80" y="560.90" font-size="8" text-anchor="end" stroke="#000" stroke-width="0.18">Myc-MLKL</text>
<text x="47.40" y="561.00" font-size="8.5" text-anchor="middle" stroke="#000" stroke-width="0.18">-</text>
<text x="59.30" y="561.00" font-size="8.5" text-anchor="middle" stroke="#000" stroke-width="0.18">-</text>
<text x="71.60" y="562.20" font-size="10.5" text-anchor="middle" stroke="#000" stroke-width="0.18">+</text>
<text x="84.00" y="555.60" font-size="7" text-anchor="middle" stroke="#000" stroke-width="0.18">M</text>
<text x="86.80" y="562.80" font-size="7" text-anchor="middle" textLength="16" lengthAdjust="spacingAndGlyphs" stroke="#000" stroke-width="0.18">(kDa)</text>
<line x1="15.60" y1="567.00" x2="15.60" y2="600.10" stroke="#222" stroke-width="0.8"/>
<line x1="15.60" y1="603.50" x2="15.60" y2="641.80" stroke="#222" stroke-width="0.8"/>
<text x="13.00" y="588.80" font-size="8" text-anchor="middle" transform="rotate(-90 13.00 588.80)" stroke="#000" stroke-width="0.18">IP: Flag</text>
<text x="13.00" y="627.80" font-size="8" text-anchor="middle" transform="rotate(-90 13.00 627.80)" stroke="#000" stroke-width="0.18">Input</text>
<line x1="358.62" y1="29.00" x2="358.62" y2="153.50" stroke="#c4c4c4" stroke-width="1.1"/>
<line x1="421.25" y1="29.00" x2="421.25" y2="153.50" stroke="#c4c4c4" stroke-width="1.1"/>
<line x1="483.88" y1="29.00" x2="483.88" y2="153.50" stroke="#c4c4c4" stroke-width="1.1"/>
<line x1="296.00" y1="91.40" x2="546.50" y2="91.40" stroke="#c4c4c4" stroke-width="1.1"/>
<text x="327.31" y="27.00" font-size="8" text-anchor="middle" stroke="#000" stroke-width="0.18">0.1 ng/mL</text>
<text x="298.30" y="39.00" font-size="8.1" fill="#e800e8" stroke="#e800e8" stroke-width="0.4">Flag-RIP3</text>
<line x1="336.93" y1="88.70" x2="352.23" y2="88.70" stroke="#d8d8d8" stroke-width="1.3"/>
<line x1="340.43" y1="150.70" x2="352.93" y2="150.70" stroke="#d8d8d8" stroke-width="1.3"/>
<text x="389.94" y="27.00" font-size="8" text-anchor="middle" stroke="#000" stroke-width="0.18">1 ng/mL</text>
<text x="360.93" y="39.00" font-size="8.1" fill="#e800e8" stroke="#e800e8" stroke-width="0.4">Flag-RIP3</text>
<line x1="399.55" y1="88.70" x2="414.85" y2="88.70" stroke="#d8d8d8" stroke-width="1.3"/>
<line x1="403.05" y1="150.70" x2="415.55" y2="150.70" stroke="#d8d8d8" stroke-width="1.3"/>
<text x="452.56" y="27.00" font-size="8" text-anchor="middle" stroke="#000" stroke-width="0.18">5 ng/mL</text>
<text x="423.55" y="39.00" font-size="8.1" fill="#e800e8" stroke="#e800e8" stroke-width="0.4">Flag-RIP3</text>
<line x1="462.18" y1="88.70" x2="477.48" y2="88.70" stroke="#d8d8d8" stroke-width="1.3"/>
<line x1="465.68" y1="150.70" x2="478.18" y2="150.70" stroke="#d8d8d8" stroke-width="1.3"/>
<text x="515.19" y="27.00" font-size="8" text-anchor="middle" stroke="#000" stroke-width="0.18">10 ng/mL</text>
<text x="486.18" y="39.00" font-size="8.1" fill="#e800e8" stroke="#e800e8" stroke-width="0.4">Flag-RIP3</text>
<line x1="524.80" y1="88.70" x2="540.10" y2="88.70" stroke="#d8d8d8" stroke-width="1.3"/>
<line x1="528.30" y1="150.70" x2="540.80" y2="150.70" stroke="#d8d8d8" stroke-width="1.3"/>
<rect x="314.90" y="51.20" width="4.20" height="4.20" fill="none" stroke="#d0d0d0" stroke-width="0.6"/>
<rect x="395.30" y="52.00" width="4.20" height="4.20" fill="none" stroke="#d0d0d0" stroke-width="0.6"/>
<rect x="451.50" y="86.00" width="4.20" height="4.20" fill="none" stroke="#d0d0d0" stroke-width="0.6"/>
<rect x="493.00" y="76.00" width="4.20" height="4.20" fill="none" stroke="#d0d0d0" stroke-width="0.6"/>
<path d="M331.5,19 L517,19 L517,10.8 Z" fill="url(#gold)"/>
<text x="425.00" y="10.30" font-size="8" text-anchor="middle" stroke="#000" stroke-width="0.18">TNF level</text>
<line x1="358.62" y1="197.00" x2="358.62" y2="321.70" stroke="#c4c4c4" stroke-width="1.1"/>
<line x1="421.25" y1="197.00" x2="421.25" y2="321.70" stroke="#c4c4c4" stroke-width="1.1"/>
<line x1="483.88" y1="197.00" x2="483.88" y2="321.70" stroke="#c4c4c4" stroke-width="1.1"/>
<line x1="296.00" y1="259.60" x2="546.50" y2="259.60" stroke="#c4c4c4" stroke-width="1.1"/>
<text x="327.31" y="194.60" font-size="8" text-anchor="middle" stroke="#000" stroke-width="0.18">2 h</text>
<text x="298.30" y="207.00" font-size="8.1" fill="#e800e8" stroke="#e800e8" stroke-width="0.4">Flag-RIP3</text>
<line x1="336.93" y1="256.60" x2="352.23" y2="256.60" stroke="#d8d8d8" stroke-width="1.3"/>
<line x1="340.43" y1="318.90" x2="352.93" y2="318.90" stroke="#d8d8d8" stroke-width="1.3"/>
<text x="389.94" y="194.60" font-size="8" text-anchor="middle" stroke="#000" stroke-width="0.18">4 h</text>
<text x="360.93" y="207.00" font-size="8.1" fill="#e800e8" stroke="#e800e8" stroke-width="0.4">Flag-RIP3</text>
<line x1="399.55" y1="256.60" x2="414.85" y2="256.60" stroke="#d8d8d8" stroke-width="1.3"/>
<line x1="403.05" y1="318.90" x2="415.55" y2="318.90" stroke="#d8d8d8" stroke-width="1.3"/>
<text x="452.56" y="194.60" font-size="8" text-anchor="middle" stroke="#000" stroke-width="0.18">6 h</text>
<text x="423.55" y="207.00" font-size="8.1" fill="#e800e8" stroke="#e800e8" stroke-width="0.4">Flag-RIP3</text>
<line x1="462.18" y1="256.60" x2="477.48" y2="256.60" stroke="#d8d8d8" stroke-width="1.3"/>
<line x1="465.68" y1="318.90" x2="478.18" y2="318.90" stroke="#d8d8d8" stroke-width="1.3"/>
<text x="515.19" y="194.60" font-size="8" text-anchor="middle" stroke="#000" stroke-width="0.18">8 h</text>
<text x="486.18" y="207.00" font-size="8.1" fill="#e800e8" stroke="#e800e8" stroke-width="0.4">Flag-RIP3</text>
<line x1="524.80" y1="256.60" x2="540.10" y2="256.60" stroke="#d8d8d8" stroke-width="1.3"/>
<line x1="528.30" y1="318.90" x2="540.80" y2="318.90" stroke="#d8d8d8" stroke-width="1.3"/>
<rect x="340.80" y="208.20" width="4.20" height="4.20" fill="none" stroke="#d0d0d0" stroke-width="0.6"/>
<rect x="384.50" y="225.50" width="4.20" height="4.20" fill="none" stroke="#d0d0d0" stroke-width="0.6"/>
<rect x="438.00" y="213.60" width="4.20" height="4.20" fill="none" stroke="#d0d0d0" stroke-width="0.6"/>
<rect x="507.20" y="235.40" width="4.20" height="4.20" fill="none" stroke="#d0d0d0" stroke-width="0.6"/>
<path d="M333.8,186.3 L514.5,186.3 L514.5,178.2 Z" fill="url(#gold)"/>
<text x="436.50" y="175.60" font-size="8" text-anchor="middle" stroke="#000" stroke-width="0.18">RIP3 expression level (DOX)</text>
<line x1="358.62" y1="376.20" x2="358.62" y2="501.00" stroke="#c4c4c4" stroke-width="1.1"/>
<line x1="421.25" y1="376.20" x2="421.25" y2="501.00" stroke="#c4c4c4" stroke-width="1.1"/>
<line x1="483.88" y1="376.20" x2="483.88" y2="501.00" stroke="#c4c4c4" stroke-width="1.1"/>
<line x1="296.00" y1="438.60" x2="546.50" y2="438.60" stroke="#c4c4c4" stroke-width="1.1"/>
<text x="327.31" y="374.30" font-size="8" text-anchor="middle" stroke="#000" stroke-width="0.18">Control</text>
<text x="298.30" y="386.20" font-size="8.1" fill="#e800e8" stroke="#e800e8" stroke-width="0.4">Flag-RIP3</text>
<line x1="336.93" y1="435.60" x2="352.23" y2="435.60" stroke="#d8d8d8" stroke-width="1.3"/>
<line x1="340.43" y1="498.30" x2="352.93" y2="498.30" stroke="#d8d8d8" stroke-width="1.3"/>
<text x="389.94" y="374.30" font-size="8" text-anchor="middle" stroke="#000" stroke-width="0.18">40 µL</text>
<text x="360.93" y="386.20" font-size="8.1" fill="#e800e8" stroke="#e800e8" stroke-width="0.4">Flag-RIP3</text>
<line x1="399.55" y1="435.60" x2="414.85" y2="435.60" stroke="#d8d8d8" stroke-width="1.3"/>
<line x1="403.05" y1="498.30" x2="415.55" y2="498.30" stroke="#d8d8d8" stroke-width="1.3"/>
<text x="452.56" y="374.30" font-size="8" text-anchor="middle" stroke="#000" stroke-width="0.18">100 µL</text>
<text x="423.55" y="386.20" font-size="8.1" fill="#e800e8" stroke="#e800e8" stroke-width="0.4">Flag-RIP3</text>
<line x1="462.18" y1="435.60" x2="477.48" y2="435.60" stroke="#d8d8d8" stroke-width="1.3"/>
<line x1="465.68" y1="498.30" x2="478.18" y2="498.30" stroke="#d8d8d8" stroke-width="1.3"/>
<text x="515.19" y="374.30" font-size="8" text-anchor="middle" stroke="#000" stroke-width="0.18">200 µL</text>
<text x="486.18" y="386.20" font-size="8.1" fill="#e800e8" stroke="#e800e8" stroke-width="0.4">Flag-RIP3</text>
<line x1="524.80" y1="435.60" x2="540.10" y2="435.60" stroke="#d8d8d8" stroke-width="1.3"/>
<line x1="528.30" y1="498.30" x2="540.80" y2="498.30" stroke="#d8d8d8" stroke-width="1.3"/>
<rect x="326.00" y="406.50" width="4.20" height="4.20" fill="none" stroke="#d0d0d0" stroke-width="0.6"/>
<rect x="384.00" y="425.50" width="4.20" height="4.20" fill="none" stroke="#d0d0d0" stroke-width="0.6"/>
<rect x="449.50" y="413.50" width="4.20" height="4.20" fill="none" stroke="#d0d0d0" stroke-width="0.6"/>
<rect x="510.50" y="386.00" width="4.20" height="4.20" fill="none" stroke="#d0d0d0" stroke-width="0.6"/>
<path d="M329.4,346.2 L329.4,354.2 L513.4,354.2 Z" fill="url(#goldr)"/>
<text x="417.70" y="346.00" font-size="8" text-anchor="middle" stroke="#000" stroke-width="0.18">MLKL expression level</text>
<text x="449.50" y="363.50" font-size="8" text-anchor="middle" stroke="#000" stroke-width="0.18">shRNA MLKL (Virus)</text>
<line x1="358.50" y1="366.30" x2="546.50" y2="366.30" stroke="#888" stroke-width="1.2"/>
<line x1="292.78" y1="534.90" x2="292.78" y2="660.00" stroke="#c4c4c4" stroke-width="1.1"/>
<line x1="355.27" y1="534.90" x2="355.27" y2="660.00" stroke="#c4c4c4" stroke-width="1.1"/>
<line x1="417.75" y1="534.90" x2="417.75" y2="660.00" stroke="#c4c4c4" stroke-width="1.1"/>
<line x1="480.23" y1="534.90" x2="480.23" y2="660.00" stroke="#c4c4c4" stroke-width="1.1"/>
<line x1="542.72" y1="534.90" x2="542.72" y2="660.00" stroke="#c4c4c4" stroke-width="1.1"/>
<line x1="230.30" y1="597.20" x2="605.20" y2="597.20" stroke="#c4c4c4" stroke-width="1.1"/>
<text x="232.80" y="543.60" font-size="8.1" fill="#fff" stroke="#fff" stroke-width="0.3">TSZ&#160; 0 h</text>
<text x="232.30" y="656.0" font-size="7.8" stroke-width="0.25"><tspan fill="#e000e0" stroke="#e000e0">Flag</tspan><tspan fill="#00d000" stroke="#00d000"> p-MLKL</tspan></text>
<line x1="274.28" y1="592.60" x2="288.78" y2="592.60" stroke="#d8d8d8" stroke-width="1.3"/>
<line x1="277.28" y1="654.80" x2="289.28" y2="654.80" stroke="#d8d8d8" stroke-width="1.3"/>
<text x="295.28" y="543.60" font-size="8.1" fill="#fff" stroke="#fff" stroke-width="0.3">TSZ&#160; 2 h</text>
<text x="294.78" y="656.0" font-size="7.8" stroke-width="0.25"><tspan fill="#e000e0" stroke="#e000e0">Flag</tspan><tspan fill="#00d000" stroke="#00d000"> p-MLKL</tspan></text>
<line x1="336.77" y1="592.60" x2="351.27" y2="592.60" stroke="#d8d8d8" stroke-width="1.3"/>
<line x1="339.77" y1="654.80" x2="351.77" y2="654.80" stroke="#d8d8d8" stroke-width="1.3"/>
<text x="357.77" y="543.60" font-size="8.1" fill="#fff" stroke="#fff" stroke-width="0.3">TSZ&#160; 4 h</text>
<text x="357.27" y="656.0" font-size="7.8" stroke-width="0.25"><tspan fill="#e000e0" stroke="#e000e0">Flag</tspan><tspan fill="#00d000" stroke="#00d000"> p-MLKL</tspan></text>
<line x1="399.25" y1="592.60" x2="413.75" y2="592.60" stroke="#d8d8d8" stroke-width="1.3"/>
<line x1="402.25" y1="654.80" x2="414.25" y2="654.80" stroke="#d8d8d8" stroke-width="1.3"/>
<text x="420.25" y="543.60" font-size="8.1" fill="#fff" stroke="#fff" stroke-width="0.3">TSZ&#160; 0 h</text>
<text x="419.75" y="656.0" font-size="7.8" stroke-width="0.25"><tspan fill="#e000e0" stroke="#e000e0">Flag</tspan><tspan fill="#00d000" stroke="#00d000"> p-MLKL</tspan></text>
<line x1="461.73" y1="592.60" x2="476.23" y2="592.60" stroke="#d8d8d8" stroke-width="1.3"/>
<line x1="464.73" y1="654.80" x2="476.73" y2="654.80" stroke="#d8d8d8" stroke-width="1.3"/>
<text x="482.73" y="543.60" font-size="8.1" fill="#fff" stroke="#fff" stroke-width="0.3">TSZ&#160; 2 h</text>
<text x="482.23" y="656.0" font-size="7.8" stroke-width="0.25"><tspan fill="#e000e0" stroke="#e000e0">Flag</tspan><tspan fill="#00d000" stroke="#00d000"> p-MLKL</tspan></text>
<line x1="524.22" y1="592.60" x2="538.72" y2="592.60" stroke="#d8d8d8" stroke-width="1.3"/>
<line x1="527.22" y1="654.80" x2="539.22" y2="654.80" stroke="#d8d8d8" stroke-width="1.3"/>
<text x="545.22" y="543.60" font-size="8.1" fill="#fff" stroke="#fff" stroke-width="0.3">TSZ&#160; 4 h</text>
<text x="544.72" y="656.0" font-size="7.8" stroke-width="0.25"><tspan fill="#e000e0" stroke="#e000e0">Flag</tspan><tspan fill="#00d000" stroke="#00d000"> p-MLKL</tspan></text>
<line x1="586.70" y1="592.60" x2="601.20" y2="592.60" stroke="#d8d8d8" stroke-width="1.3"/>
<line x1="589.70" y1="654.80" x2="601.70" y2="654.80" stroke="#d8d8d8" stroke-width="1.3"/>
<rect x="265.00" y="554.00" width="3.20" height="3.20" fill="none" stroke="#d0d0d0" stroke-width="0.6"/>
<rect x="323.30" y="580.50" width="3.20" height="3.20" fill="none" stroke="#d0d0d0" stroke-width="0.6"/>
<rect x="384.00" y="556.50" width="3.20" height="3.20" fill="none" stroke="#d0d0d0" stroke-width="0.6"/>
<rect x="452.00" y="567.00" width="3.20" height="3.20" fill="none" stroke="#d0d0d0" stroke-width="0.6"/>
<rect x="508.00" y="558.00" width="3.20" height="3.20" fill="none" stroke="#d0d0d0" stroke-width="0.6"/>
<rect x="581.00" y="559.00" width="3.20" height="3.20" fill="none" stroke="#d0d0d0" stroke-width="0.6"/>
<text x="324.00" y="531.40" font-size="8" text-anchor="middle" stroke="#000" stroke-width="0.18">HeLa Flag-RIP3</text>
<text stroke="#000" stroke-width="0.18" x="515" y="531.4" font-size="8" text-anchor="middle">HeLa <tspan font-style="italic">MLKL</tspan>-KO Flag-RIP3</text>
<line x1="230.30" y1="533.40" x2="416.50" y2="533.40" stroke="#222" stroke-width="0.8"/>
<line x1="418.50" y1="533.40" x2="605.20" y2="533.40" stroke="#222" stroke-width="0.8"/>
<text x="221.80" y="520.50" font-size="8.4" stroke="#000" stroke-width="0.18">l</text>
<text x="549.50" y="7.30" font-size="8.4" stroke="#000" stroke-width="0.18">e</text>
<path d="M610.80,75.50 L612.50,73.06 L614.50,69.39 L615.80,65.72 L616.10,63.27 L615.50,60.34 L614.50,57.16 L613.90,53.50 L613.00,48.61 L612.00,43.72 L611.50,38.83 L610.70,35.16 L610.30,35.16 L609.50,38.83 L609.00,43.72 L608.00,48.61 L607.10,53.50 L606.50,57.16 L605.50,60.34 L604.90,63.27 L605.20,65.72 L606.50,69.39 L608.50,73.06 L610.20,75.50 Z" fill="#c4c4f8" stroke="#222" stroke-width="0.6" stroke-linejoin="round"/>
<line x1="605.55" y1="64.50" x2="615.45" y2="64.50" stroke="#333" stroke-width="0.5" stroke-dasharray="1.2 1"/>
<line x1="607.73" y1="52.76" x2="613.27" y2="52.76" stroke="#333" stroke-width="0.5" stroke-dasharray="1.2 1"/>
<line x1="606.28" y1="59.12" x2="614.72" y2="59.12" stroke="#ff2020" stroke-width="0.9" stroke-dasharray="1.4 0.9"/>
<path d="M628.70,75.50 L631.40,73.06 L633.20,69.39 L633.40,65.72 L632.20,62.05 L630.60,58.39 L630.20,53.50 L630.30,49.83 L630.00,46.16 L629.20,41.27 L628.90,33.94 L628.60,29.05 L628.20,29.05 L627.90,33.94 L627.60,41.27 L626.80,46.16 L626.50,49.83 L626.60,53.50 L626.20,58.39 L624.60,62.05 L623.40,65.72 L623.60,69.39 L625.40,73.06 L628.10,75.50 Z" fill="#9c9cf2" stroke="#222" stroke-width="0.6" stroke-linejoin="round"/>
<line x1="624.03" y1="68.17" x2="632.77" y2="68.17" stroke="#333" stroke-width="0.5" stroke-dasharray="1.2 1"/>
<line x1="626.49" y1="58.87" x2="630.31" y2="58.87" stroke="#333" stroke-width="0.5" stroke-dasharray="1.2 1"/>
<line x1="624.36" y1="64.01" x2="632.44" y2="64.01" stroke="#ff2020" stroke-width="0.9" stroke-dasharray="1.4 0.9"/>
<path d="M647.30,75.50 L650.00,73.54 L651.60,71.10 L651.30,68.17 L650.00,64.50 L649.30,60.83 L648.60,55.94 L648.20,52.27 L647.60,48.61 L647.20,42.49 L646.80,42.49 L646.40,48.61 L645.80,52.27 L645.40,55.94 L644.70,60.83 L644.00,64.50 L642.70,68.17 L642.40,71.10 L644.00,73.54 L646.70,75.50 Z" fill="#7474f0" stroke="#222" stroke-width="0.6" stroke-linejoin="round"/>
<line x1="642.90" y1="71.10" x2="651.10" y2="71.10" stroke="#333" stroke-width="0.5" stroke-dasharray="1.2 1"/>
<line x1="644.83" y1="62.79" x2="649.17" y2="62.79" stroke="#333" stroke-width="0.5" stroke-dasharray="1.2 1"/>
<line x1="643.36" y1="67.43" x2="650.64" y2="67.43" stroke="#ff2020" stroke-width="0.9" stroke-dasharray="1.4 0.9"/>
<path d="M665.60,75.50 L668.30,74.03 L669.80,72.08 L669.50,69.39 L668.30,66.94 L667.10,63.27 L666.20,59.61 L665.90,53.50 L665.70,47.38 L665.50,41.27 L665.10,41.27 L664.90,47.38 L664.70,53.50 L664.40,59.61 L663.50,63.27 L662.30,66.94 L661.10,69.39 L660.80,72.08 L662.30,74.03 L665.00,75.50 Z" fill="#5252ee" stroke="#222" stroke-width="0.6" stroke-linejoin="round"/>
<line x1="661.33" y1="71.83" x2="669.27" y2="71.83" stroke="#333" stroke-width="0.5" stroke-dasharray="1.2 1"/>
<line x1="663.04" y1="66.21" x2="667.56" y2="66.21" stroke="#333" stroke-width="0.5" stroke-dasharray="1.2 1"/>
<line x1="661.50" y1="69.39" x2="669.10" y2="69.39" stroke="#ff2020" stroke-width="0.9" stroke-dasharray="1.4 0.9"/>
<line x1="600.00" y1="26.20" x2="600.00" y2="76.10" stroke="#000" stroke-width="1.3"/>
<line x1="599.40" y1="75.50" x2="675.80" y2="75.50" stroke="#000" stroke-width="1.3"/>
<line x1="597.40" y1="26.60" x2="600.00" y2="26.60" stroke="#000" stroke-width="1.1"/>
<text x="596.80" y="29.00" font-size="6.8" text-anchor="end" stroke="#000" stroke-width="0.18">200</text>
<line x1="597.40" y1="51.10" x2="600.00" y2="51.10" stroke="#000" stroke-width="1.1"/>
<text x="596.80" y="53.50" font-size="6.8" text-anchor="end" stroke="#000" stroke-width="0.18">100</text>
<line x1="597.40" y1="75.50" x2="600.00" y2="75.50" stroke="#000" stroke-width="1.1"/>
<text x="596.80" y="77.90" font-size="6.8" text-anchor="end" stroke="#000" stroke-width="0.18">0</text>
<line x1="610.50" y1="75.50" x2="610.50" y2="78.30" stroke="#000" stroke-width="1.1"/>
<line x1="628.40" y1="75.50" x2="628.40" y2="78.30" stroke="#000" stroke-width="1.1"/>
<line x1="647.00" y1="75.50" x2="647.00" y2="78.30" stroke="#000" stroke-width="1.1"/>
<line x1="665.30" y1="75.50" x2="665.30" y2="78.30" stroke="#000" stroke-width="1.1"/>
<line x1="599.60" y1="86.20" x2="599.60" y2="133.90" stroke="#000" stroke-width="1.3"/>
<line x1="599.00" y1="133.30" x2="675.80" y2="133.30" stroke="#000" stroke-width="1.3"/>
<line x1="597.00" y1="86.60" x2="599.60" y2="86.60" stroke="#000" stroke-width="1.1"/>
<text x="596.40" y="89.00" font-size="6.8" text-anchor="end" stroke="#000" stroke-width="0.18">45</text>
<line x1="597.00" y1="102.30" x2="599.60" y2="102.30" stroke="#000" stroke-width="1.1"/>
<text x="596.40" y="104.70" font-size="6.8" text-anchor="end" stroke="#000" stroke-width="0.18">30</text>
<line x1="597.00" y1="118.00" x2="599.60" y2="118.00" stroke="#000" stroke-width="1.1"/>
<text x="596.40" y="120.40" font-size="6.8" text-anchor="end" stroke="#000" stroke-width="0.18">15</text>
<line x1="597.00" y1="133.30" x2="599.60" y2="133.30" stroke="#000" stroke-width="1.1"/>
<text x="596.40" y="135.70" font-size="6.8" text-anchor="end" stroke="#000" stroke-width="0.18">0</text>
<rect x="604.40" y="123.40" width="10.50" height="9.90" fill="#c8c8fa" stroke="#111" stroke-width="0.8"/>
<line x1="609.65" y1="123.40" x2="609.65" y2="118.70" stroke="#111" stroke-width="0.8"/>
<line x1="607.65" y1="118.70" x2="611.65" y2="118.70" stroke="#111" stroke-width="0.8"/>
<circle cx="606.50" cy="119.60" r="1.55" fill="none" stroke="#111" stroke-width="0.75"/>
<circle cx="609.80" cy="119.20" r="1.55" fill="none" stroke="#111" stroke-width="0.75"/>
<circle cx="613.00" cy="119.60" r="1.55" fill="none" stroke="#111" stroke-width="0.75"/>
<circle cx="609.50" cy="128.40" r="1.55" fill="none" stroke="#111" stroke-width="0.75"/>
<rect x="623.20" y="116.20" width="9.70" height="17.10" fill="#9c9cf5" stroke="#111" stroke-width="0.8"/>
<line x1="628.05" y1="116.20" x2="628.05" y2="102.60" stroke="#111" stroke-width="0.8"/>
<line x1="626.05" y1="102.60" x2="630.05" y2="102.60" stroke="#111" stroke-width="0.8"/>
<circle cx="628.00" cy="102.60" r="1.55" fill="none" stroke="#111" stroke-width="0.75"/>
<circle cx="628.00" cy="119.20" r="1.55" fill="none" stroke="#111" stroke-width="0.75"/>
<circle cx="628.00" cy="126.40" r="1.55" fill="none" stroke="#111" stroke-width="0.75"/>
<rect x="641.20" y="111.00" width="10.20" height="22.30" fill="#7a7af5" stroke="#111" stroke-width="0.8"/>
<line x1="646.30" y1="111.00" x2="646.30" y2="107.00" stroke="#111" stroke-width="0.8"/>
<line x1="644.30" y1="107.00" x2="648.30" y2="107.00" stroke="#111" stroke-width="0.8"/>
<circle cx="643.00" cy="107.50" r="1.55" fill="none" stroke="#111" stroke-width="0.75"/>
<circle cx="646.50" cy="107.30" r="1.55" fill="none" stroke="#111" stroke-width="0.75"/>
<circle cx="650.00" cy="107.50" r="1.55" fill="none" stroke="#111" stroke-width="0.75"/>
<circle cx="646.00" cy="115.50" r="1.55" fill="none" stroke="#111" stroke-width="0.75"/>
<rect x="659.50" y="105.10" width="10.20" height="28.20" fill="#5454f0" stroke="#111" stroke-width="0.8"/>
<line x1="664.60" y1="105.10" x2="664.60" y2="90.50" stroke="#111" stroke-width="0.8"/>
<line x1="662.60" y1="90.50" x2="666.60" y2="90.50" stroke="#111" stroke-width="0.8"/>
<circle cx="664.50" cy="93.50" r="1.55" fill="none" stroke="#111" stroke-width="0.75"/>
<circle cx="664.50" cy="97.50" r="1.55" fill="none" stroke="#111" stroke-width="0.75"/>
<circle cx="664.50" cy="121.50" r="1.55" fill="none" stroke="#111" stroke-width="0.75"/>
<line x1="609.80" y1="133.30" x2="609.80" y2="136.10" stroke="#000" stroke-width="1.1"/>
<text x="609.80" y="145.20" font-size="7.2" text-anchor="middle" stroke="#000" stroke-width="0.18">0.1</text>
<line x1="628.10" y1="133.30" x2="628.10" y2="136.10" stroke="#000" stroke-width="1.1"/>
<text x="628.10" y="145.20" font-size="7.2" text-anchor="middle" stroke="#000" stroke-width="0.18">1</text>
<line x1="646.30" y1="133.30" x2="646.30" y2="136.10" stroke="#000" stroke-width="1.1"/>
<text x="646.30" y="145.20" font-size="7.2" text-anchor="middle" stroke="#000" stroke-width="0.18">5</text>
<line x1="664.60" y1="133.30" x2="664.60" y2="136.10" stroke="#000" stroke-width="1.1"/>
<text x="664.60" y="145.20" font-size="7.2" text-anchor="middle" stroke="#000" stroke-width="0.18">10</text>
<text x="634.60" y="155.90" font-size="8" text-anchor="middle" textLength="68.6" lengthAdjust="spacingAndGlyphs" stroke="#000" stroke-width="0.18">TNF Level (ng/mL)</text>
<text x="571.30" y="50.50" font-size="8" text-anchor="middle" transform="rotate(-90 571.30 50.50)" stroke="#000" stroke-width="0.18">Area of RIP3 clusters</text>
<text stroke="#000" stroke-width="0.18" x="581.8" y="50.5" font-size="8" text-anchor="middle" transform="rotate(-90 581.8 50.5)">( ×10<tspan font-size="5" dy="-3">3</tspan><tspan dy="3"> nm</tspan><tspan font-size="5" dy="-3">2</tspan><tspan dy="3">)</tspan></text>
<text x="571.30" y="120.00" font-size="8" text-anchor="middle" transform="rotate(-90 571.30 120.00)" stroke="#000" stroke-width="0.18">Necrosome</text>
<text x="581.80" y="120.20" font-size="8" text-anchor="middle" transform="rotate(-90 581.80 120.20)" stroke="#000" stroke-width="0.18">counts per cell</text>
<text x="548.50" y="169.50" font-size="8.4" stroke="#000" stroke-width="0.18">g</text>
<path d="M611.30,240.10 L613.80,238.63 L615.40,236.42 L616.00,233.96 L615.30,231.51 L614.00,229.05 L612.30,226.60 L611.60,222.91 L611.40,215.55 L611.70,213.09 L611.00,211.13 L610.60,211.13 L609.90,213.09 L610.20,215.55 L610.00,222.91 L609.30,226.60 L607.60,229.05 L606.30,231.51 L605.60,233.96 L606.20,236.42 L607.80,238.63 L610.30,240.10 Z" fill="#fafad0" stroke="#222" stroke-width="0.6" stroke-linejoin="round"/>
<line x1="606.70" y1="236.42" x2="614.90" y2="236.42" stroke="#333" stroke-width="0.5" stroke-dasharray="1.2 1"/>
<line x1="607.19" y1="230.77" x2="614.41" y2="230.77" stroke="#333" stroke-width="0.5" stroke-dasharray="1.2 1"/>
<line x1="606.14" y1="233.47" x2="615.46" y2="233.47" stroke="#ff2020" stroke-width="0.9" stroke-dasharray="1.4 0.9"/>
<path d="M629.60,240.10 L631.80,238.14 L633.70,235.68 L634.30,233.23 L633.30,230.77 L632.10,229.05 L631.70,225.37 L631.60,221.69 L631.10,219.23 L630.30,216.78 L629.90,210.64 L629.80,203.28 L629.50,195.91 L629.10,195.91 L628.80,203.28 L628.70,210.64 L628.30,216.78 L627.50,219.23 L627.00,221.69 L626.90,225.37 L626.50,229.05 L625.30,230.77 L624.30,233.23 L624.90,235.68 L626.80,238.14 L629.00,240.10 Z" fill="#eef5c0" stroke="#222" stroke-width="0.6" stroke-linejoin="round"/>
<line x1="624.98" y1="233.96" x2="633.62" y2="233.96" stroke="#333" stroke-width="0.5" stroke-dasharray="1.2 1"/>
<line x1="627.47" y1="222.91" x2="631.13" y2="222.91" stroke="#333" stroke-width="0.5" stroke-dasharray="1.2 1"/>
<line x1="626.04" y1="230.28" x2="632.56" y2="230.28" stroke="#ff2020" stroke-width="0.9" stroke-dasharray="1.4 0.9"/>
<path d="M648.10,240.10 L650.00,237.64 L651.60,233.96 L652.80,230.28 L653.20,227.33 L652.10,224.14 L650.30,220.46 L649.30,216.78 L648.80,210.64 L648.50,203.28 L648.30,195.91 L648.00,192.23 L647.60,192.23 L647.30,195.91 L647.10,203.28 L646.80,210.64 L646.30,216.78 L645.30,220.46 L643.50,224.14 L642.40,227.33 L642.80,230.28 L644.00,233.96 L645.60,237.64 L647.50,240.10 Z" fill="#f7f79a" stroke="#222" stroke-width="0.6" stroke-linejoin="round"/>
<line x1="643.70" y1="231.51" x2="651.90" y2="231.51" stroke="#333" stroke-width="0.5" stroke-dasharray="1.2 1"/>
<line x1="645.20" y1="221.69" x2="650.40" y2="221.69" stroke="#333" stroke-width="0.5" stroke-dasharray="1.2 1"/>
<line x1="642.80" y1="227.33" x2="652.80" y2="227.33" stroke="#ff2020" stroke-width="0.9" stroke-dasharray="1.4 0.9"/>
<path d="M666.60,240.10 L668.70,237.64 L670.30,233.96 L671.30,230.28 L671.70,225.37 L670.80,221.69 L669.60,218.00 L668.30,213.09 L667.50,208.19 L667.10,203.28 L666.80,197.14 L666.50,194.68 L666.10,194.68 L665.80,197.14 L665.50,203.28 L665.10,208.19 L664.30,213.09 L663.00,218.00 L661.80,221.69 L660.90,225.37 L661.30,230.28 L662.30,233.96 L663.90,237.64 L666.00,240.10 Z" fill="#ffff10" stroke="#222" stroke-width="0.6" stroke-linejoin="round"/>
<line x1="661.70" y1="229.05" x2="670.90" y2="229.05" stroke="#333" stroke-width="0.5" stroke-dasharray="1.2 1"/>
<line x1="663.10" y1="219.23" x2="669.50" y2="219.23" stroke="#333" stroke-width="0.5" stroke-dasharray="1.2 1"/>
<line x1="661.60" y1="224.14" x2="671.00" y2="224.14" stroke="#ff2020" stroke-width="0.9" stroke-dasharray="1.4 0.9"/>
<line x1="600.00" y1="190.60" x2="600.00" y2="240.70" stroke="#000" stroke-width="1.3"/>
<line x1="599.40" y1="240.10" x2="677.00" y2="240.10" stroke="#000" stroke-width="1.3"/>
<line x1="597.40" y1="191.00" x2="600.00" y2="191.00" stroke="#000" stroke-width="1.1"/>
<text x="596.80" y="193.40" font-size="6.8" text-anchor="end" stroke="#000" stroke-width="0.18">200</text>
<line x1="597.40" y1="215.50" x2="600.00" y2="215.50" stroke="#000" stroke-width="1.1"/>
<text x="596.80" y="217.90" font-size="6.8" text-anchor="end" stroke="#000" stroke-width="0.18">100</text>
<line x1="597.40" y1="240.10" x2="600.00" y2="240.10" stroke="#000" stroke-width="1.1"/>
<text x="596.80" y="242.50" font-size="6.8" text-anchor="end" stroke="#000" stroke-width="0.18">0</text>
<line x1="610.80" y1="240.10" x2="610.80" y2="242.90" stroke="#000" stroke-width="1.1"/>
<line x1="629.30" y1="240.10" x2="629.30" y2="242.90" stroke="#000" stroke-width="1.1"/>
<line x1="647.80" y1="240.10" x2="647.80" y2="242.90" stroke="#000" stroke-width="1.1"/>
<line x1="666.30" y1="240.10" x2="666.30" y2="242.90" stroke="#000" stroke-width="1.1"/>
<line x1="600.00" y1="250.10" x2="600.00" y2="302.20" stroke="#000" stroke-width="1.3"/>
<line x1="599.40" y1="301.60" x2="679.90" y2="301.60" stroke="#000" stroke-width="1.3"/>
<line x1="597.40" y1="250.50" x2="600.00" y2="250.50" stroke="#000" stroke-width="1.1"/>
<text x="596.80" y="252.90" font-size="6.8" text-anchor="end" stroke="#000" stroke-width="0.18">40</text>
<line x1="597.40" y1="276.10" x2="600.00" y2="276.10" stroke="#000" stroke-width="1.1"/>
<text x="596.80" y="278.50" font-size="6.8" text-anchor="end" stroke="#000" stroke-width="0.18">20</text>
<line x1="597.40" y1="301.60" x2="600.00" y2="301.60" stroke="#000" stroke-width="1.1"/>
<text x="596.80" y="304.00" font-size="6.8" text-anchor="end" stroke="#000" stroke-width="0.18">0</text>
<rect x="606.20" y="291.40" width="10.20" height="10.20" fill="#fafadc" stroke="#111" stroke-width="0.8"/>
<line x1="611.30" y1="291.40" x2="611.30" y2="288.80" stroke="#111" stroke-width="0.8"/>
<line x1="609.30" y1="288.80" x2="613.30" y2="288.80" stroke="#111" stroke-width="0.8"/>
<circle cx="607.50" cy="290.50" r="1.55" fill="none" stroke="#111" stroke-width="0.75"/>
<circle cx="610.50" cy="288.30" r="1.55" fill="none" stroke="#111" stroke-width="0.75"/>
<circle cx="614.50" cy="289.80" r="1.55" fill="none" stroke="#111" stroke-width="0.75"/>
<circle cx="607.80" cy="293.00" r="1.55" fill="none" stroke="#111" stroke-width="0.75"/>
<rect x="625.10" y="288.00" width="10.30" height="13.60" fill="#eef5c8" stroke="#111" stroke-width="0.8"/>
<line x1="630.25" y1="288.00" x2="630.25" y2="286.00" stroke="#111" stroke-width="0.8"/>
<line x1="628.25" y1="286.00" x2="632.25" y2="286.00" stroke="#111" stroke-width="0.8"/>
<circle cx="626.50" cy="286.00" r="1.55" fill="none" stroke="#111" stroke-width="0.75"/>
<circle cx="630.00" cy="287.50" r="1.55" fill="none" stroke="#111" stroke-width="0.75"/>
<circle cx="633.50" cy="288.00" r="1.55" fill="none" stroke="#111" stroke-width="0.75"/>
<circle cx="626.50" cy="291.00" r="1.55" fill="none" stroke="#111" stroke-width="0.75"/>
<rect x="644.10" y="284.10" width="10.20" height="17.50" fill="#fafaa0" stroke="#111" stroke-width="0.8"/>
<line x1="649.20" y1="284.10" x2="649.20" y2="277.90" stroke="#111" stroke-width="0.8"/>
<line x1="647.20" y1="277.90" x2="651.20" y2="277.90" stroke="#111" stroke-width="0.8"/>
<circle cx="649.30" cy="278.30" r="1.55" fill="none" stroke="#111" stroke-width="0.75"/>
<circle cx="645.80" cy="287.80" r="1.55" fill="none" stroke="#111" stroke-width="0.75"/>
<circle cx="652.80" cy="286.00" r="1.55" fill="none" stroke="#111" stroke-width="0.75"/>
<rect x="663.40" y="266.20" width="10.20" height="35.40" fill="#ffff00" stroke="#111" stroke-width="0.8"/>
<line x1="668.50" y1="266.20" x2="668.50" y2="257.20" stroke="#111" stroke-width="0.8"/>
<line x1="666.50" y1="257.20" x2="670.50" y2="257.20" stroke="#111" stroke-width="0.8"/>
<circle cx="668.50" cy="257.20" r="1.55" fill="none" stroke="#111" stroke-width="0.75"/>
<circle cx="664.50" cy="272.00" r="1.55" fill="none" stroke="#111" stroke-width="0.75"/>
<circle cx="672.00" cy="269.30" r="1.55" fill="none" stroke="#111" stroke-width="0.75"/>
<line x1="611.30" y1="301.60" x2="611.30" y2="304.40" stroke="#000" stroke-width="1.1"/>
<line x1="630.30" y1="301.60" x2="630.30" y2="304.40" stroke="#000" stroke-width="1.1"/>
<line x1="648.80" y1="301.60" x2="648.80" y2="304.40" stroke="#000" stroke-width="1.1"/>
<line x1="668.20" y1="301.60" x2="668.20" y2="304.40" stroke="#000" stroke-width="1.1"/>
<text x="612.60" y="313.20" font-size="6.3" text-anchor="middle" stroke="#000" stroke-width="0.18">100%</text>
<text x="631.20" y="313.20" font-size="6.3" text-anchor="middle" stroke="#000" stroke-width="0.18">205%</text>
<text x="649.40" y="313.20" font-size="6.3" text-anchor="middle" stroke="#000" stroke-width="0.18">261%</text>
<text x="670.40" y="313.20" font-size="6.3" text-anchor="middle" stroke="#000" stroke-width="0.18">346%</text>
<text x="633.50" y="325.50" font-size="8" text-anchor="middle" stroke="#000" stroke-width="0.18">RIP3 expression level</text>
<text x="571.30" y="214.80" font-size="8" text-anchor="middle" transform="rotate(-90 571.30 214.80)" stroke="#000" stroke-width="0.18">Area of RIP3 clusters</text>
<text stroke="#000" stroke-width="0.18" x="581.8" y="213.5" font-size="8" text-anchor="middle" transform="rotate(-90 581.8 213.5)">( ×10<tspan font-size="5" dy="-3">3</tspan><tspan dy="3"> nm</tspan><tspan font-size="5" dy="-3">2</tspan><tspan dy="3">)</tspan></text>
<text x="571.30" y="283.00" font-size="8" text-anchor="middle" transform="rotate(-90 571.30 283.00)" stroke="#000" stroke-width="0.18">Necrosome</text>
<text x="581.80" y="283.00" font-size="8" text-anchor="middle" transform="rotate(-90 581.80 283.00)" stroke="#000" stroke-width="0.18">counts per cell</text>
<text x="551.50" y="340.50" font-size="8.4" stroke="#000" stroke-width="0.18">i</text>
<path d="M610.10,416.30 L612.30,413.76 L613.80,409.95 L614.00,406.14 L613.30,402.33 L614.30,399.79 L615.30,395.98 L614.30,392.17 L613.30,388.36 L612.00,383.28 L610.80,378.20 L610.30,374.39 L610.00,371.09 L609.60,371.09 L609.30,374.39 L608.80,378.20 L607.60,383.28 L606.30,388.36 L605.30,392.17 L604.30,395.98 L605.30,399.79 L606.30,402.33 L605.60,406.14 L605.80,409.95 L607.30,413.76 L609.50,416.30 Z" fill="#c2f5c2" stroke="#222" stroke-width="0.6" stroke-linejoin="round"/>
<line x1="606.80" y1="402.33" x2="612.80" y2="402.33" stroke="#333" stroke-width="0.5" stroke-dasharray="1.2 1"/>
<line x1="606.47" y1="389.63" x2="613.13" y2="389.63" stroke="#333" stroke-width="0.5" stroke-dasharray="1.2 1"/>
<line x1="604.70" y1="395.98" x2="614.90" y2="395.98" stroke="#ff2020" stroke-width="0.9" stroke-dasharray="1.4 0.9"/>
<path d="M628.30,416.30 L630.50,413.76 L632.30,409.95 L633.30,406.14 L632.60,402.33 L631.60,398.52 L630.50,394.71 L629.20,390.90 L628.70,385.82 L628.50,378.20 L628.20,373.12 L627.80,373.12 L627.50,378.20 L627.30,385.82 L626.80,390.90 L625.50,394.71 L624.40,398.52 L623.40,402.33 L622.70,406.14 L623.70,409.95 L625.50,413.76 L627.70,416.30 Z" fill="#a4f2a4" stroke="#222" stroke-width="0.6" stroke-linejoin="round"/>
<line x1="623.53" y1="407.41" x2="632.47" y2="407.41" stroke="#333" stroke-width="0.5" stroke-dasharray="1.2 1"/>
<line x1="625.05" y1="398.01" x2="630.95" y2="398.01" stroke="#333" stroke-width="0.5" stroke-dasharray="1.2 1"/>
<line x1="623.57" y1="403.60" x2="632.43" y2="403.60" stroke="#ff2020" stroke-width="0.9" stroke-dasharray="1.4 0.9"/>
<path d="M646.30,416.30 L648.50,413.76 L650.30,409.95 L650.60,406.65 L649.50,403.60 L648.00,399.79 L647.00,395.98 L646.60,390.90 L646.40,385.82 L646.20,380.74 L645.80,380.74 L645.60,385.82 L645.40,390.90 L645.00,395.98 L644.00,399.79 L642.50,403.60 L641.40,406.65 L641.70,409.95 L643.50,413.76 L645.70,416.30 Z" fill="#00e400" stroke="#222" stroke-width="0.6" stroke-linejoin="round"/>
<line x1="642.08" y1="408.68" x2="649.92" y2="408.68" stroke="#333" stroke-width="0.5" stroke-dasharray="1.2 1"/>
<line x1="643.80" y1="401.57" x2="648.20" y2="401.57" stroke="#333" stroke-width="0.5" stroke-dasharray="1.2 1"/>
<line x1="642.26" y1="405.38" x2="649.74" y2="405.38" stroke="#ff2020" stroke-width="0.9" stroke-dasharray="1.4 0.9"/>
<path d="M664.10,416.30 L666.60,414.27 L668.60,411.22 L669.00,408.17 L668.00,404.87 L666.40,401.06 L665.10,397.25 L664.50,393.44 L664.30,388.36 L664.00,381.50 L663.60,381.50 L663.30,388.36 L663.10,393.44 L662.50,397.25 L661.20,401.06 L659.60,404.87 L658.60,408.17 L659.00,411.22 L661.00,414.27 L663.50,416.30 Z" fill="#00c400" stroke="#222" stroke-width="0.6" stroke-linejoin="round"/>
<line x1="659.33" y1="409.95" x2="668.27" y2="409.95" stroke="#333" stroke-width="0.5" stroke-dasharray="1.2 1"/>
<line x1="660.85" y1="403.09" x2="666.75" y2="403.09" stroke="#333" stroke-width="0.5" stroke-dasharray="1.2 1"/>
<line x1="659.38" y1="406.90" x2="668.22" y2="406.90" stroke="#ff2020" stroke-width="0.9" stroke-dasharray="1.4 0.9"/>
<line x1="600.00" y1="365.10" x2="600.00" y2="416.90" stroke="#000" stroke-width="1.3"/>
<line x1="599.40" y1="416.30" x2="674.30" y2="416.30" stroke="#000" stroke-width="1.3"/>
<line x1="597.40" y1="365.50" x2="600.00" y2="365.50" stroke="#000" stroke-width="1.1"/>
<text x="596.80" y="367.90" font-size="6.8" text-anchor="end" stroke="#000" stroke-width="0.18">200</text>
<line x1="597.40" y1="390.80" x2="600.00" y2="390.80" stroke="#000" stroke-width="1.1"/>
<text x="596.80" y="393.20" font-size="6.8" text-anchor="end" stroke="#000" stroke-width="0.18">100</text>
<line x1="597.40" y1="416.30" x2="600.00" y2="416.30" stroke="#000" stroke-width="1.1"/>
<text x="596.80" y="418.70" font-size="6.8" text-anchor="end" stroke="#000" stroke-width="0.18">0</text>
<line x1="609.80" y1="416.30" x2="609.80" y2="419.10" stroke="#000" stroke-width="1.1"/>
<line x1="628.00" y1="416.30" x2="628.00" y2="419.10" stroke="#000" stroke-width="1.1"/>
<line x1="646.00" y1="416.30" x2="646.00" y2="419.10" stroke="#000" stroke-width="1.1"/>
<line x1="663.80" y1="416.30" x2="663.80" y2="419.10" stroke="#000" stroke-width="1.1"/>
<line x1="599.60" y1="426.90" x2="599.60" y2="475.10" stroke="#000" stroke-width="1.3"/>
<line x1="599.00" y1="474.50" x2="675.80" y2="474.50" stroke="#000" stroke-width="1.3"/>
<line x1="597.00" y1="427.30" x2="599.60" y2="427.30" stroke="#000" stroke-width="1.1"/>
<text x="596.40" y="429.70" font-size="6.8" text-anchor="end" stroke="#000" stroke-width="0.18">60</text>
<line x1="597.00" y1="451.10" x2="599.60" y2="451.10" stroke="#000" stroke-width="1.1"/>
<text x="596.40" y="453.50" font-size="6.8" text-anchor="end" stroke="#000" stroke-width="0.18">30</text>
<line x1="597.00" y1="474.50" x2="599.60" y2="474.50" stroke="#000" stroke-width="1.1"/>
<text x="596.40" y="476.90" font-size="6.8" text-anchor="end" stroke="#000" stroke-width="0.18">0</text>
<rect x="604.40" y="461.60" width="10.20" height="12.90" fill="#c4f5c4" stroke="#111" stroke-width="0.8"/>
<line x1="609.50" y1="461.60" x2="609.50" y2="459.50" stroke="#111" stroke-width="0.8"/>
<line x1="607.50" y1="459.50" x2="611.50" y2="459.50" stroke="#111" stroke-width="0.8"/>
<circle cx="606.50" cy="459.50" r="1.55" fill="none" stroke="#111" stroke-width="0.75"/>
<circle cx="609.50" cy="460.50" r="1.55" fill="none" stroke="#111" stroke-width="0.75"/>
<circle cx="613.00" cy="459.80" r="1.55" fill="none" stroke="#111" stroke-width="0.75"/>
<circle cx="609.50" cy="466.00" r="1.55" fill="none" stroke="#111" stroke-width="0.75"/>
<rect x="623.20" y="457.50" width="9.70" height="17.00" fill="#a4f0a4" stroke="#111" stroke-width="0.8"/>
<line x1="628.05" y1="457.50" x2="628.05" y2="452.80" stroke="#111" stroke-width="0.8"/>
<line x1="626.05" y1="452.80" x2="630.05" y2="452.80" stroke="#111" stroke-width="0.8"/>
<circle cx="628.00" cy="452.80" r="1.55" fill="none" stroke="#111" stroke-width="0.75"/>
<circle cx="624.80" cy="458.50" r="1.55" fill="none" stroke="#111" stroke-width="0.75"/>
<circle cx="631.20" cy="458.50" r="1.55" fill="none" stroke="#111" stroke-width="0.75"/>
<rect x="641.20" y="451.10" width="10.20" height="23.40" fill="#00f000" stroke="#111" stroke-width="0.8"/>
<line x1="646.30" y1="451.10" x2="646.30" y2="438.00" stroke="#111" stroke-width="0.8"/>
<line x1="644.30" y1="438.00" x2="648.30" y2="438.00" stroke="#111" stroke-width="0.8"/>
<circle cx="646.30" cy="438.30" r="1.55" fill="none" stroke="#111" stroke-width="0.75"/>
<circle cx="646.30" cy="452.80" r="1.55" fill="none" stroke="#111" stroke-width="0.75"/>
<circle cx="646.30" cy="462.20" r="1.55" fill="none" stroke="#111" stroke-width="0.75"/>
<rect x="659.70" y="449.60" width="10.00" height="24.90" fill="#00c400" stroke="#111" stroke-width="0.8"/>
<line x1="664.70" y1="449.60" x2="664.70" y2="434.30" stroke="#111" stroke-width="0.8"/>
<line x1="662.70" y1="434.30" x2="666.70" y2="434.30" stroke="#111" stroke-width="0.8"/>
<circle cx="664.70" cy="434.30" r="1.55" fill="none" stroke="#111" stroke-width="0.75"/>
<circle cx="664.70" cy="452.80" r="1.55" fill="none" stroke="#111" stroke-width="0.75"/>
<circle cx="664.70" cy="461.50" r="1.55" fill="none" stroke="#111" stroke-width="0.75"/>
<line x1="609.80" y1="474.50" x2="609.80" y2="477.30" stroke="#000" stroke-width="1.1"/>
<line x1="628.00" y1="474.50" x2="628.00" y2="477.30" stroke="#000" stroke-width="1.1"/>
<line x1="646.20" y1="474.50" x2="646.20" y2="477.30" stroke="#000" stroke-width="1.1"/>
<line x1="664.60" y1="474.50" x2="664.60" y2="477.30" stroke="#000" stroke-width="1.1"/>
<text x="611.30" y="485.70" font-size="6.6" text-anchor="middle" stroke="#000" stroke-width="0.18">30%</text>
<text x="629.70" y="485.70" font-size="6.6" text-anchor="middle" stroke="#000" stroke-width="0.18">40%</text>
<text x="647.80" y="485.70" font-size="6.6" text-anchor="middle" stroke="#000" stroke-width="0.18">69%</text>
<text x="670.40" y="485.70" font-size="6.6" text-anchor="middle" stroke="#000" stroke-width="0.18">100%</text>
<text x="632.80" y="498.10" font-size="8" text-anchor="middle" textLength="81" lengthAdjust="spacingAndGlyphs" stroke="#000" stroke-width="0.18">MLKL expression level</text>
<text x="571.30" y="391.00" font-size="8" text-anchor="middle" transform="rotate(-90 571.30 391.00)" stroke="#000" stroke-width="0.18">Area of RIP3 clusters</text>
<text stroke="#000" stroke-width="0.18" x="581.8" y="391" font-size="8" text-anchor="middle" transform="rotate(-90 581.8 391)">( ×10<tspan font-size="5" dy="-3">3</tspan><tspan dy="3"> nm</tspan><tspan font-size="5" dy="-3">2</tspan><tspan dy="3">)</tspan></text>
<text x="571.30" y="462.00" font-size="8" text-anchor="middle" transform="rotate(-90 571.30 462.00)" stroke="#000" stroke-width="0.18">Necrosome</text>
<text x="581.80" y="462.00" font-size="8" text-anchor="middle" transform="rotate(-90 581.80 462.00)" stroke="#000" stroke-width="0.18">counts per cell</text>
<line x1="119.80" y1="552.20" x2="119.80" y2="629.90" stroke="#000" stroke-width="1.3"/>
<line x1="119.20" y1="629.30" x2="146.80" y2="629.30" stroke="#000" stroke-width="1.3"/>
<line x1="117.20" y1="552.60" x2="119.80" y2="552.60" stroke="#000" stroke-width="1.1"/>
<text x="116.60" y="555.00" font-size="7.2" text-anchor="end" stroke="#000" stroke-width="0.18">1.5</text>
<line x1="117.20" y1="578.20" x2="119.80" y2="578.20" stroke="#000" stroke-width="1.1"/>
<text x="116.60" y="580.60" font-size="7.2" text-anchor="end" stroke="#000" stroke-width="0.18">1.0</text>
<line x1="117.20" y1="604.00" x2="119.80" y2="604.00" stroke="#000" stroke-width="1.1"/>
<text x="116.60" y="606.40" font-size="7.2" text-anchor="end" stroke="#000" stroke-width="0.18">0.5</text>
<line x1="117.20" y1="629.30" x2="119.80" y2="629.30" stroke="#000" stroke-width="1.1"/>
<text x="116.60" y="631.70" font-size="7.2" text-anchor="end" stroke="#000" stroke-width="0.18">0.0</text>
<rect x="123.40" y="578.20" width="7.70" height="51.10" fill="#fff" stroke="#111" stroke-width="0.6"/>
<circle cx="124.80" cy="578.20" r="1.55" fill="none" stroke="#111" stroke-width="0.75"/>
<circle cx="126.40" cy="578.20" r="1.55" fill="none" stroke="#111" stroke-width="0.75"/>
<circle cx="128.00" cy="578.20" r="1.55" fill="none" stroke="#111" stroke-width="0.75"/>
<circle cx="129.60" cy="578.20" r="1.55" fill="none" stroke="#111" stroke-width="0.75"/>
<rect x="135.60" y="603.50" width="6.70" height="25.80" fill="#fff" stroke="#111" stroke-width="0.6"/>
<line x1="138.95" y1="603.50" x2="138.95" y2="598.00" stroke="#111" stroke-width="0.8"/>
<line x1="136.95" y1="598.00" x2="140.95" y2="598.00" stroke="#111" stroke-width="0.8"/>
<circle cx="139.00" cy="598.50" r="1.55" fill="none" stroke="#111" stroke-width="0.75"/>
<circle cx="139.00" cy="601.50" r="1.55" fill="none" stroke="#111" stroke-width="0.75"/>
<circle cx="137.50" cy="605.50" r="1.55" fill="none" stroke="#111" stroke-width="0.75"/>
<circle cx="140.50" cy="606.50" r="1.55" fill="none" stroke="#111" stroke-width="0.75"/>
<line x1="127.20" y1="629.30" x2="127.20" y2="632.10" stroke="#000" stroke-width="1.1"/>
<line x1="138.90" y1="629.30" x2="138.90" y2="632.10" stroke="#000" stroke-width="1.1"/>
<text x="122.50" y="567.00" font-size="6.8" textLength="27.9" lengthAdjust="spacingAndGlyphs" stroke="#000" stroke-width="0.18">p=0.0008</text>
<line x1="123.00" y1="568.90" x2="142.00" y2="568.90" stroke="#111" stroke-width="0.8"/>
<text x="105.00" y="592.70" font-size="7.6" text-anchor="middle" transform="rotate(-90 105.00 592.70)" textLength="89.4" lengthAdjust="spacingAndGlyphs" stroke="#000" stroke-width="0.18">IP HA-RIP3/Input HA-RIP3</text>
<text x="129.00" y="638.50" font-size="7.6" text-anchor="end" transform="rotate(-45 129.00 638.50)" stroke="#000" stroke-width="0.18">Vec</text>
<text x="142.00" y="639.00" font-size="7.6" text-anchor="end" transform="rotate(-45 142.00 639.00)" stroke="#000" stroke-width="0.18">MLKL</text>
<text x="157.30" y="520.00" font-size="8.4" stroke="#000" stroke-width="0.18">k</text>
<line x1="175.70" y1="557.10" x2="175.70" y2="630.10" stroke="#000" stroke-width="1.3"/>
<line x1="175.10" y1="629.50" x2="221.20" y2="629.50" stroke="#000" stroke-width="1.3"/>
<line x1="173.10" y1="557.50" x2="175.70" y2="557.50" stroke="#000" stroke-width="1.1"/>
<text x="172.50" y="559.90" font-size="7.2" text-anchor="end" stroke="#000" stroke-width="0.18">40</text>
<line x1="173.10" y1="575.50" x2="175.70" y2="575.50" stroke="#000" stroke-width="1.1"/>
<text x="172.50" y="577.90" font-size="7.2" text-anchor="end" stroke="#000" stroke-width="0.18">30</text>
<line x1="173.10" y1="593.70" x2="175.70" y2="593.70" stroke="#000" stroke-width="1.1"/>
<text x="172.50" y="596.10" font-size="7.2" text-anchor="end" stroke="#000" stroke-width="0.18">20</text>
<line x1="173.10" y1="611.70" x2="175.70" y2="611.70" stroke="#000" stroke-width="1.1"/>
<text x="172.50" y="614.10" font-size="7.2" text-anchor="end" stroke="#000" stroke-width="0.18">10</text>
<line x1="173.10" y1="629.50" x2="175.70" y2="629.50" stroke="#000" stroke-width="1.1"/>
<text x="172.50" y="631.90" font-size="7.2" text-anchor="end" stroke="#000" stroke-width="0.18">0</text>
<rect x="178.60" y="627.50" width="4.70" height="2.00" fill="#fff" stroke="#111" stroke-width="0.7"/>
<rect x="184.80" y="629.00" width="4.70" height="0.50" fill="#777" stroke="#111" stroke-width="0.7"/>
<rect x="193.20" y="612.90" width="4.70" height="16.60" fill="#fff" stroke="#111" stroke-width="0.7"/>
<rect x="199.40" y="629.00" width="4.70" height="0.50" fill="#777" stroke="#111" stroke-width="0.7"/>
<rect x="208.40" y="587.90" width="4.70" height="41.60" fill="#fff" stroke="#111" stroke-width="0.7"/>
<rect x="214.60" y="629.00" width="4.70" height="0.50" fill="#777" stroke="#111" stroke-width="0.7"/>
<line x1="195.50" y1="612.90" x2="195.50" y2="609.80" stroke="#111" stroke-width="0.8"/>
<line x1="193.90" y1="609.80" x2="197.10" y2="609.80" stroke="#111" stroke-width="0.8"/>
<line x1="210.70" y1="587.90" x2="210.70" y2="582.30" stroke="#111" stroke-width="0.8"/>
<line x1="209.10" y1="582.30" x2="212.30" y2="582.30" stroke="#111" stroke-width="0.8"/>
<circle cx="195.50" cy="610.50" r="1.2" fill="none" stroke="#111" stroke-width="0.7"/>
<circle cx="195.50" cy="613.00" r="1.2" fill="none" stroke="#111" stroke-width="0.7"/>
<circle cx="195.50" cy="615.50" r="1.2" fill="none" stroke="#111" stroke-width="0.7"/>
<circle cx="210.70" cy="583.00" r="1.2" fill="none" stroke="#111" stroke-width="0.7"/>
<circle cx="210.70" cy="586.00" r="1.2" fill="none" stroke="#111" stroke-width="0.7"/>
<circle cx="210.70" cy="589.00" r="1.2" fill="none" stroke="#111" stroke-width="0.7"/>
<circle cx="181.00" cy="627.30" r="1.2" fill="none" stroke="#111" stroke-width="0.7"/>
<circle cx="182.00" cy="628.20" r="1.2" fill="none" stroke="#111" stroke-width="0.7"/>
<circle cx="187.00" cy="628.80" r="1.2" fill="none" stroke="#111" stroke-width="0.7"/>
<circle cx="201.80" cy="628.80" r="1.2" fill="none" stroke="#111" stroke-width="0.7"/>
<circle cx="217.00" cy="628.80" r="1.2" fill="none" stroke="#111" stroke-width="0.7"/>
<line x1="184.00" y1="629.50" x2="184.00" y2="632.30" stroke="#000" stroke-width="1.1"/>
<text x="184.00" y="640.20" font-size="7.4" text-anchor="middle" stroke="#000" stroke-width="0.18">0</text>
<line x1="198.60" y1="629.50" x2="198.60" y2="632.30" stroke="#000" stroke-width="1.1"/>
<text x="198.60" y="640.20" font-size="7.4" text-anchor="middle" stroke="#000" stroke-width="0.18">2</text>
<line x1="213.50" y1="629.50" x2="213.50" y2="632.30" stroke="#000" stroke-width="1.1"/>
<text x="213.50" y="640.20" font-size="7.4" text-anchor="middle" stroke="#000" stroke-width="0.18">4</text>
<text x="199.00" y="649.00" font-size="8.4" text-anchor="middle" stroke="#000" stroke-width="0.18">TSZ (h)</text>
<rect x="181.00" y="549.80" width="7.50" height="3.80" fill="#fff" stroke="#111" stroke-width="0.7"/>
<rect x="181.00" y="557.30" width="7.50" height="3.80" fill="#777" stroke="#111" stroke-width="0.7"/>
<text x="190.30" y="553.60" font-size="7.4" stroke="#000" stroke-width="0.18">WT</text>
<text stroke="#000" stroke-width="0.18" x="190.3" y="561.1" font-size="7.4"><tspan font-style="italic">MLKL</tspan>-KO</text>
<text x="178.50" y="605.00" font-size="6.8" textLength="27.5" lengthAdjust="spacingAndGlyphs" stroke="#000" stroke-width="0.18">p&lt;0.0001</text>
<line x1="193.00" y1="607.30" x2="205.00" y2="607.30" stroke="#111" stroke-width="0.8"/>
<text x="197.90" y="575.00" font-size="6.8" textLength="28" lengthAdjust="spacingAndGlyphs" stroke="#000" stroke-width="0.18">p&lt;0.0001</text>
<line x1="208.00" y1="577.40" x2="220.00" y2="577.40" stroke="#111" stroke-width="0.8"/>
<text x="161.30" y="586.70" font-size="8.4" text-anchor="middle" transform="rotate(-90 161.30 586.70)" stroke="#000" stroke-width="0.18">Cell death (%)</text>
<text x="609.30" y="520.00" font-size="8.4" stroke="#000" stroke-width="0.18">m</text>
<line x1="635.00" y1="555.90" x2="635.00" y2="628.10" stroke="#000" stroke-width="1.3"/>
<line x1="634.40" y1="627.50" x2="674.60" y2="627.50" stroke="#000" stroke-width="1.3"/>
<line x1="632.40" y1="556.30" x2="635.00" y2="556.30" stroke="#000" stroke-width="1.1"/>
<text x="631.80" y="558.70" font-size="6.4" text-anchor="end" stroke="#000" stroke-width="0.18">3000</text>
<line x1="632.40" y1="570.60" x2="635.00" y2="570.60" stroke="#000" stroke-width="1.1"/>
<text x="631.80" y="573.00" font-size="6.4" text-anchor="end" stroke="#000" stroke-width="0.18">2400</text>
<line x1="632.40" y1="584.60" x2="635.00" y2="584.60" stroke="#000" stroke-width="1.1"/>
<text x="631.80" y="587.00" font-size="6.4" text-anchor="end" stroke="#000" stroke-width="0.18">1800</text>
<line x1="632.40" y1="599.30" x2="635.00" y2="599.30" stroke="#000" stroke-width="1.1"/>
<text x="631.80" y="601.70" font-size="6.4" text-anchor="end" stroke="#000" stroke-width="0.18">1200</text>
<line x1="632.40" y1="613.50" x2="635.00" y2="613.50" stroke="#000" stroke-width="1.1"/>
<text x="631.80" y="615.90" font-size="6.4" text-anchor="end" stroke="#000" stroke-width="0.18">600</text>
<line x1="632.40" y1="627.50" x2="635.00" y2="627.50" stroke="#000" stroke-width="1.1"/>
<text x="631.80" y="629.90" font-size="6.4" text-anchor="end" stroke="#000" stroke-width="0.18">0</text>
<path d="M641.30,627.50 L643.00,625.13 L643.30,622.75 L642.50,620.38 L641.60,618.01 L641.30,615.63 L640.70,615.63 L640.40,618.01 L639.50,620.38 L638.70,622.75 L639.00,625.13 L640.70,627.50 Z" fill="#eab8ea" stroke="#222" stroke-width="0.6" stroke-linejoin="round"/>
<path d="M649.80,627.50 L652.00,625.13 L652.50,621.57 L651.50,618.01 L650.50,613.26 L650.10,606.14 L649.70,600.21 L649.30,600.21 L648.90,606.14 L648.50,613.26 L647.50,618.01 L646.50,621.57 L647.00,625.13 L649.20,627.50 Z" fill="#a400c8" stroke="#222" stroke-width="0.6" stroke-linejoin="round"/>
<path d="M662.30,627.50 L664.50,623.94 L665.20,620.38 L664.20,616.82 L663.20,613.26 L662.60,608.51 L662.20,604.95 L661.80,604.95 L661.40,608.51 L660.80,613.26 L659.80,616.82 L658.80,620.38 L659.50,623.94 L661.70,627.50 Z" fill="#eab8ea" stroke="#222" stroke-width="0.6" stroke-linejoin="round"/>
<path d="M671.10,627.50 L674.30,622.75 L674.60,618.01 L673.30,613.26 L672.30,606.14 L671.60,596.65 L671.30,589.53 L671.00,582.41 L670.60,582.41 L670.30,589.53 L670.00,596.65 L669.30,606.14 L668.30,613.26 L667.00,618.01 L667.30,622.75 L670.50,627.50 Z" fill="#a400c8" stroke="#222" stroke-width="0.6" stroke-linejoin="round"/>
<line x1="645.20" y1="627.50" x2="645.20" y2="630.30" stroke="#000" stroke-width="1.1"/>
<text x="645.20" y="637.80" font-size="7.4" text-anchor="middle" stroke="#000" stroke-width="0.18">2</text>
<line x1="666.00" y1="627.50" x2="666.00" y2="630.30" stroke="#000" stroke-width="1.1"/>
<text x="666.00" y="637.80" font-size="7.4" text-anchor="middle" stroke="#000" stroke-width="0.18">4</text>
<text x="657.60" y="648.30" font-size="8.4" text-anchor="middle" stroke="#000" stroke-width="0.18">TSZ (h)</text>
<rect x="637.30" y="555.60" width="7.90" height="3.80" fill="#eab8ea" stroke="#111" stroke-width="0.6"/>
<rect x="637.30" y="561.90" width="7.90" height="3.80" fill="#a400c8" stroke="#111" stroke-width="0.6"/>
<text x="650.50" y="559.60" font-size="6.4" stroke="#000" stroke-width="0.18">WT</text>
<text stroke="#000" stroke-width="0.18" x="650.5" y="565.9" font-size="6.4"><tspan font-style="italic">MLKL</tspan>-KO</text>
<text x="637.30" y="596.30" font-size="6.8" textLength="27.1" lengthAdjust="spacingAndGlyphs" stroke="#000" stroke-width="0.18">p=0.0154</text>
<line x1="641.00" y1="598.60" x2="659.00" y2="598.60" stroke="#111" stroke-width="0.8"/>
<text x="657.60" y="577.40" font-size="6.8" textLength="28" lengthAdjust="spacingAndGlyphs" stroke="#000" stroke-width="0.18">p&lt;0.0001</text>
<line x1="662.00" y1="580.00" x2="678.00" y2="580.00" stroke="#111" stroke-width="0.8"/>
<text x="615.30" y="587.30" font-size="8.4" text-anchor="middle" transform="rotate(-90 615.30 587.30)" textLength="98.6" lengthAdjust="spacingAndGlyphs" stroke="#000" stroke-width="0.18">Length of RIP3 rods (nm)</text>
</svg>
<script>
const BLOTS=[{"x0": 213.2, "x1": 276.9, "y0": 39.5, "y1": 51.3, "lanes": [219.4, 232.1, 244.8, 257.5, 270.2], "bands": [{"y": 46.0, "h": 2.2, "w": 10.5, "a": [0.92, 0.88, 0.8, 0.88, 0.92]}], "bg": 242}, {"x0": 213.2, "x1": 276.9, "y0": 53.4, "y1": 64.8, "lanes": [219.4, 232.1, 244.8, 257.5, 270.2], "bands": [{"y": 58.6, "h": 2.4, "w": 10, "a": [0.03, 0.35, 0.85, 0.7, 0.85]}], "bg": 242}, {"x0": 213.2, "x1": 276.9, "y0": 66.5, "y1": 87.7, "lanes": [219.4, 232.1, 244.8, 257.5, 270.2], "bands": [{"y": 72.4, "h": 3.2, "w": 10, "a": [0, 0.4, 0.6, 0.45, 0.85]}, {"y": 83.2, "h": 3.6, "w": 11, "a": [1, 1, 1, 1, 1]}], "bg": 242}, {"x0": 213.2, "x1": 276.9, "y0": 90.3, "y1": 110.2, "lanes": [219.4, 232.1, 244.8, 257.5, 270.2], "bands": [{"y": 95.0, "h": 2.6, "w": 11, "a": [0, 0.6, 0.9, 0.9, 0.95]}, {"y": 100, "h": 8, "w": 11, "a": [0, 0.12, 0.15, 0.15, 0.18]}, {"y": 106, "h": 1.8, "w": 10, "a": [0.2, 0.15, 0.15, 0.15, 0.2]}], "bg": 242}, {"x0": 213.2, "x1": 276.9, "y0": 112.6, "y1": 125.1, "lanes": [219.4, 232.1, 244.8, 257.5, 270.2], "bands": [{"y": 119.2, "h": 2.8, "w": 11, "a": [0.95, 0.9, 0.95, 0.9, 0.9]}], "bg": 242}, {"x0": 213.2, "x1": 276.9, "y0": 127.3, "y1": 138.6, "lanes": [219.4, 232.1, 244.8, 257.5, 270.2], "bands": [{"y": 133.6, "h": 2.5, "w": 10, "a": [0.1, 0.45, 0.7, 0.85, 0.8]}], "bg": 242}, {"x0": 213.2, "x1": 276.9, "y0": 140.2, "y1": 153.6, "lanes": [219.4, 232.1, 244.8, 257.5, 270.2], "bands": [{"y": 146.1, "h": 3.6, "w": 11, "a": [1, 1, 1, 1, 1]}], "bg": 242}, {"x0": 213.5, "x1": 276.9, "y0": 213.9, "y1": 225.3, "lanes": [219.7, 232.1, 244.6, 256.6, 268.6], "bands": [{"y": 219.7, "h": 2.2, "w": 10.5, "a": [0.9, 0.9, 0.9, 0.88, 0.85]}], "bg": 242}, {"x0": 213.5, "x1": 276.9, "y0": 227.3, "y1": 237.8, "lanes": [219.7, 232.1, 244.6, 256.6, 268.6], "bands": [{"y": 233.6, "h": 2.6, "w": 10.5, "a": [0.45, 0.65, 0.8, 0.95, 1]}], "bg": 242}, {"x0": 213.5, "x1": 276.9, "y0": 239.8, "y1": 259.3, "lanes": [219.7, 232.1, 244.6, 256.6, 268.6], "bands": [{"y": 245.5, "h": 6, "w": 10.5, "a": [0, 0.02, 0.1, 0.25, 0.38]}, {"y": 253.8, "h": [3.2, 2.6, 3.2, 3.8, 4.2], "w": [10.5, 10.5, 11, 11.5, 11.5], "a": [0, 0.9, 1, 1, 1]}], "bg": 242}, {"x0": 213.5, "x1": 276.9, "y0": 261.2, "y1": 280.0, "lanes": [219.7, 232.1, 244.6, 256.6, 268.6], "bands": [{"y": 269.5, "h": 8, "w": 10.5, "a": [0, 0.14, 0.24, 0.38, 0.46]}, {"y": 272, "h": 2, "w": 9, "a": [0, 0, 0.1, 0.35, 0.4]}, {"y": 276.9, "h": 2.2, "w": 10.5, "a": [0, 0.6, 0.65, 0.75, 0.85]}], "bg": 242}, {"x0": 213.5, "x1": 276.9, "y0": 281.9, "y1": 293.1, "lanes": [219.7, 232.1, 244.6, 256.6, 268.6], "bands": [{"y": 288.8, "h": 3.4, "w": 11, "a": [1, 1, 1, 1, 1]}], "bg": 242}, {"x0": 213.5, "x1": 276.9, "y0": 295.3, "y1": 305.2, "lanes": [219.7, 232.1, 244.6, 256.6, 268.6], "bands": [{"y": 301.2, "h": 2.2, "w": 10.5, "a": [0.08, 0.85, 0.8, 0.85, 0.85]}], "bg": 242}, {"x0": 213.5, "x1": 276.9, "y0": 307.4, "y1": 319.6, "lanes": [219.7, 232.1, 244.6, 256.6, 268.6], "bands": [{"y": 314.4, "h": 4, "w": 11, "a": [1, 1, 1, 1, 1]}], "bg": 242}, {"x0": 213.7, "x1": 277.2, "y0": 391.4, "y1": 401.7, "lanes": [222, 237.6, 253.2, 268.8], "bands": [{"y": 396.9, "h": 3, "w": 13, "a": [1, 1, 1, 1]}], "bg": 242}, {"x0": 213.7, "x1": 277.2, "y0": 404.3, "y1": 413.5, "lanes": [222, 237.6, 253.2, 268.8], "bands": [{"y": 409.4, "h": 3, "w": 13, "a": [0.75, 1, 0.85, 0.95]}], "bg": 242}, {"x0": 213.7, "x1": 277.2, "y0": 415.6, "y1": 436.5, "lanes": [222, 237.6, 253.2, 268.8], "bands": [{"y": 422.3, "h": 6.2, "w": 14, "a": [1, 1, 1, 1]}, {"y": 428.5, "h": 5, "w": 13, "a": [0.12, 0.12, 0.12, 0.12]}, {"y": 433.8, "h": 2.4, "w": 13, "a": [0.8, 0.9, 1, 0.9]}], "bg": 242}, {"x0": 213.7, "x1": 277.2, "y0": 438.6, "y1": 459.0, "lanes": [222, 237.6, 253.2, 268.8], "bands": [{"y": 446.1, "h": 5.4, "w": 14, "a": [1, 0.95, 1, 1]}, {"y": 451, "h": 4, "w": 13, "a": [0.2, 0.2, 0.2, 0.2]}, {"y": 455.4, "h": 2.5, "w": 13, "a": [0.5, 0.45, 0.4, 0.45]}], "bg": 242}, {"x0": 213.7, "x1": 277.2, "y0": 461.4, "y1": 474.2, "lanes": [222, 237.6, 253.2, 268.8], "bands": [{"y": 469.1, "h": [5, 3.6, 2.4, 2.2], "w": [15, 13, 12, 12], "a": [1, 1, 0.85, 0.65]}], "bg": 242}, {"x0": 213.7, "x1": 277.2, "y0": 476.2, "y1": 489.5, "lanes": [222, 237.6, 253.2, 268.8], "bands": [{"y": 484.2, "h": 2.6, "w": 13, "a": [0.95, 0.9, 0.9, 0.95]}, {"y": 479.5, "h": 1.5, "w": 13, "a": [0.08, 0.08, 0.08, 0.08]}], "bg": 242}, {"x0": 213.7, "x1": 277.2, "y0": 491.6, "y1": 503.1, "lanes": [222, 237.6, 253.2, 268.8], "bands": [{"y": 498, "h": 3, "w": 13, "a": [1, 1, 1, 1]}], "bg": 242}, {"x0": 41.3, "x1": 77.4, "y0": 566.1, "y1": 577.2, "lanes": [47.4, 59.5, 71.4], "bands": [{"y": 573.2, "h": 3.6, "w": 10, "a": [0, 1, 1]}], "bg": 242}, {"x0": 41.3, "x1": 77.4, "y0": 578.2, "y1": 590.7, "lanes": [47.4, 59.5, 71.4], "bands": [{"y": 586.3, "h": [3.5, 3.5, 2.2], "w": [10, 10, 9], "a": [0, 1, 0.75]}], "bg": 242}, {"x0": 41.3, "x1": 77.4, "y0": 591.8, "y1": 600.1, "lanes": [47.4, 59.5, 71.4], "bands": [{"y": 596.6, "h": 2.2, "w": 10, "a": [0, 0, 0.9]}], "bg": 242}, {"x0": 41.3, "x1": 77.4, "y0": 603.1, "y1": 616.2, "lanes": [47.4, 59.5, 71.4], "bands": [{"y": 613.3, "h": 1.8, "w": 10, "a": [0, 0.9, 0.85]}, {"y": 609, "h": 5, "w": 10, "a": [0, 0.12, 0.12]}], "bg": 242}, {"x0": 41.3, "x1": 77.4, "y0": 617.7, "y1": 629.8, "lanes": [47.4, 59.5, 71.4], "bands": [{"y": 624.2, "h": 5, "w": 11, "a": [0.42, 0.6, 0.7]}], "bg": 242}, {"x0": 41.3, "x1": 77.4, "y0": 631.2, "y1": 641.8, "lanes": [47.4, 59.5, 71.4], "bands": [{"y": 638.8, "h": 3.8, "w": 11, "a": [0, 0, 1]}], "bg": 242}];
const MICRO=[{"x0": 296.0, "y0": 29.0, "x1": 546.5, "y1": 153.5, "cells": [{"x": 296.0, "y": 29.0, "w": 62.625, "h": 62.400000000000006, "seed": 11, "dots": 60, "dotA": 0.55, "clusters": [[336, 72, 12, 4, 22]], "rods": [], "glow": []}, {"x": 358.625, "y": 29.0, "w": 62.625, "h": 62.400000000000006, "seed": 12, "dots": 70, "dotA": 0.55, "clusters": [[392, 46, 14, 8, 25], [385, 70, 15, 10, 20]], "rods": [], "glow": []}, {"x": 421.25, "y": 29.0, "w": 62.625, "h": 62.400000000000006, "seed": 13, "dots": 70, "dotA": 0.55, "clusters": [], "rods": [], "glow": []}, {"x": 483.875, "y": 29.0, "w": 62.625, "h": 62.400000000000006, "seed": 14, "dots": 80, "dotA": 0.55, "clusters": [[506, 62, 20, 16, 55]], "rods": [], "glow": []}, {"x": 296.0, "y": 91.4, "w": 62.625, "h": 62.099999999999994, "seed": 21, "dots": 10, "dotA": 0.9, "clusters": [], "rods": [[[312.6, 139.7], [314.4, 129.5], [319.9, 121.3], [326.3, 112.1], [333.7, 103.2]]], "rw": 2.0, "glow": [], "big": 3, "speck": true}, {"x": 358.625, "y": 91.4, "w": 62.625, "h": 62.099999999999994, "seed": 22, "dots": 10, "dotA": 0.9, "clusters": [], "rods": [[[383.9, 124.9], [392, 118], [400.5, 111.2]]], "rw": 2.0, "glow": [], "big": 3, "speck": true}, {"x": 421.25, "y": 91.4, "w": 62.625, "h": 62.099999999999994, "seed": 23, "dots": 10, "dotA": 0.9, "clusters": [], "rods": [[[449.7, 105.8], [450.6, 110.4], [448.7, 116.9]], [[456.5, 126.2], [458, 136.3]]], "rw": 2.0, "glow": [], "big": 1, "speck": true}, {"x": 483.875, "y": 91.4, "w": 62.625, "h": 62.099999999999994, "seed": 24, "dots": 10, "dotA": 0.9, "clusters": [], "rods": [[[517.3, 112.6], [523.8, 109.1]], [[510.5, 130.4], [514.5, 133.6]]], "rw": 2.0, "glow": [], "big": 1, "speck": true}]}, {"x0": 296.0, "y0": 197.0, "x1": 546.5, "y1": 321.7, "cells": [{"x": 296.0, "y": 197.0, "w": 62.625, "h": 62.60000000000002, "seed": 31, "dots": 25, "dotA": 0.7, "clusters": [], "rods": [], "glow": []}, {"x": 358.625, "y": 197.0, "w": 62.625, "h": 62.60000000000002, "seed": 32, "dots": 60, "dotA": 0.7, "clusters": [[372, 218, 12, 10, 45], [388, 244, 16, 8, 45], [405, 226, 6, 12, 15]], "rods": [], "glow": []}, {"x": 421.25, "y": 197.0, "w": 62.625, "h": 62.60000000000002, "seed": 33, "dots": 60, "dotA": 0.7, "clusters": [[446, 220, 12, 10, 100], [456, 240, 8, 8, 45]], "rods": [], "glow": []}, {"x": 483.875, "y": 197.0, "w": 62.625, "h": 62.60000000000002, "seed": 34, "dots": 70, "dotA": 0.7, "clusters": [[518, 226, 19, 12, 200]], "rods": [], "glow": []}, {"x": 296.0, "y": 259.6, "w": 62.625, "h": 62.099999999999966, "seed": 41, "dots": 14, "dotA": 0.9, "clusters": [], "rods": [[[334.6, 276.4], [335.5, 281.9], [338.7, 286.5]], [[318.5, 299.6], [320.0, 301.0]]], "rw": 2.1, "glow": [], "big": 3, "speck": true}, {"x": 358.625, "y": 259.6, "w": 62.625, "h": 62.099999999999966, "seed": 42, "dots": 14, "dotA": 0.9, "clusters": [], "rods": [[[387, 272.7], [396, 277.5], [405.4, 282.8]], [[383.4, 296.6], [380, 302], [376.9, 307.7]]], "rw": 2.1, "glow": [], "big": 1, "speck": true}, {"x": 421.25, "y": 259.6, "w": 62.625, "h": 62.099999999999966, "seed": 43, "dots": 14, "dotA": 0.9, "clusters": [], "rods": [[[457.1, 267.3], [452.4, 275.6], [441.3, 283]], [[428.3, 298.4], [440.4, 303.4], [449.7, 307.1], [451.5, 313.6]], [[458, 304.3], [466.3, 298.8], [479.3, 294.7]], [[422.8, 319.2], [430.2, 314.5]]], "rw": 2.1, "glow": [], "big": 2, "speck": true}, {"x": 483.875, "y": 259.6, "w": 62.625, "h": 62.099999999999966, "seed": 44, "dots": 14, "dotA": 0.9, "clusters": [], "rods": [[[484.9, 274.7], [494.2, 281.2], [505.3, 280.2], [520.1, 279.3], [531.2, 277.5], [538.7, 281.2], [546, 287.7]], [[504.4, 270], [516.4, 271.9], [527.5, 270], [531.2, 275.6]], [[497.9, 287.7], [501.6, 292.3]], [[516.4, 313.6], [525.7, 313.2], [535, 306.2], [541.4, 297.9]]], "rw": 2.1, "glow": [], "big": 2, "speck": true}]}, {"x0": 296.0, "y0": 376.2, "x1": 546.5, "y1": 501.0, "cells": [{"x": 296.0, "y": 376.2, "w": 62.625, "h": 62.400000000000034, "seed": 51, "dots": 60, "dotA": 0.45, "clusters": [], "rods": [], "glow": [{"t": "poly", "pts": [[308.8, 393.2], [328.8, 391.4], [345.3, 396.9], [350.7, 407.8], [343.4, 418.8], [332.5, 422.4], [317.9, 420.6], [310.6, 411.5], [307, 400.5]], "a": 0.12}, {"t": "ell", "cx": 297, "cy": 408, "rx": 4, "ry": 12, "a": 0.12}]}, {"x": 358.625, "y": 376.2, "w": 62.625, "h": 62.400000000000034, "seed": 52, "dots": 60, "dotA": 0.45, "clusters": [], "rods": [], "glow": [{"t": "poly", "pts": [[359, 384], [398, 381], [412, 395], [421, 420], [421, 438.6], [378, 438.6], [359, 428]], "a": 0.09}]}, {"x": 421.25, "y": 376.2, "w": 62.625, "h": 62.400000000000034, "seed": 53, "dots": 60, "dotA": 0.45, "clusters": [], "rods": [], "glow": [{"t": "ell", "cx": 453, "cy": 406, "rx": 27.5, "ry": 12.8, "a": 0.13}, {"t": "ring", "cx": 453, "cy": 406, "rx": 27.5, "ry": 12.8, "a": 0.1}]}, {"x": 483.875, "y": 376.2, "w": 62.625, "h": 62.400000000000034, "seed": 54, "dots": 60, "dotA": 0.45, "clusters": [], "rods": [], "glow": [{"t": "poly", "pts": [[484.6, 378], [500, 376], [520, 388], [540, 398], [546.5, 410], [546.5, 438.6], [530, 438.6], [515, 420], [500, 406], [484.6, 402]], "a": 0.11}]}, {"x": 296.0, "y": 438.6, "w": 62.625, "h": 62.39999999999998, "seed": 61, "dots": 30, "dotA": 0.9, "clusters": [], "rods": [[[326.5, 463.5], [330.1, 469.2]]], "rw": 2.1, "glow": [], "big": 4, "speck": true}, {"x": 358.625, "y": 438.6, "w": 62.625, "h": 62.39999999999998, "seed": 62, "dots": 30, "dotA": 0.9, "clusters": [], "rods": [[[383, 463.7], [388.5, 467.5], [394, 471]]], "rw": 2.1, "glow": [], "big": 3, "speck": true}, {"x": 421.25, "y": 438.6, "w": 62.625, "h": 62.39999999999998, "seed": 63, "dots": 30, "dotA": 0.9, "clusters": [], "rods": [[[450.6, 471], [456, 465.5], [461.5, 460]]], "rw": 2.1, "glow": [], "big": 6, "speck": true}, {"x": 483.875, "y": 438.6, "w": 62.625, "h": 62.39999999999998, "seed": 64, "dots": 30, "dotA": 0.9, "clusters": [], "rods": [[[501.7, 448], [505, 458], [509.5, 470], [513.5, 479], [520, 485.6]]], "rw": 2.1, "glow": [], "big": 5, "speck": true}]}, {"x0": 230.3, "y0": 534.9, "x1": 605.2, "y1": 660, "cells": [{"x": 230.3, "y": 534.9, "w": 62.48333333333334, "h": 62.30000000000007, "seed": 71, "dots": 40, "dotA": 0.4, "clusters": [], "rods": [], "glow": [{"t": "poly", "pts": [[232, 566], [235.5, 559.4], [245.3, 553.8], [257.7, 549.6], [274.4, 546.9], [292.7, 543.5], [292.7, 559.4], [277.2, 569.1], [271.6, 580.2], [270.2, 588.5], [263.3, 587.1], [246.6, 581.5], [235.5, 574.6]], "a": 0.24, "smooth": 1, "hole": [257.7, 573.2, 8, 7]}]}, {"x": 292.78333333333336, "y": 534.9, "w": 62.48333333333334, "h": 62.30000000000007, "seed": 72, "dots": 40, "dotA": 0.4, "clusters": [], "rods": [], "glow": [{"t": "ell", "cx": 318.8, "cy": 566.3, "rx": 16.6, "ry": 20.8, "a": 0.17, "green": 1}, {"t": "ell", "cx": 293, "cy": 575, "rx": 3, "ry": 25, "a": 0.12}, {"t": "ell", "cx": 356, "cy": 590, "rx": 6, "ry": 12, "a": 0.12}]}, {"x": 355.2666666666667, "y": 534.9, "w": 62.48333333333334, "h": 62.30000000000007, "seed": 73, "dots": 40, "dotA": 0.4, "clusters": [], "rods": [], "glow": [{"t": "ell", "cx": 385.3, "cy": 563.5, "rx": 11.5, "ry": 11.5, "a": 0.18, "green": 1}, {"t": "ell", "cx": 409, "cy": 544, "rx": 14, "ry": 12, "a": 0.1}, {"t": "ell", "cx": 404, "cy": 582, "rx": 13, "ry": 12, "a": 0.1}, {"t": "ell", "cx": 374, "cy": 597, "rx": 14, "ry": 6, "a": 0.09}]}, {"x": 417.75, "y": 534.9, "w": 62.48333333333334, "h": 62.30000000000007, "seed": 74, "dots": 40, "dotA": 0.4, "clusters": [], "rods": [], "glow": [{"t": "poly", "pts": [[420.6, 555.3], [423.4, 549.7], [431.7, 545.5], [456.8, 542.8], [463.8, 548.3], [466.6, 556.7], [468, 569.3], [468, 584.6], [456.8, 588.8], [448.5, 593], [442.9, 595.7], [431.7, 593], [424.8, 588.8], [419.2, 586], [419.2, 566.5]], "a": 0.3, "smooth": 1, "hole": [440, 572, 10, 9]}, {"t": "ell", "cx": 425, "cy": 597, "rx": 10, "ry": 6, "a": 0.2}]}, {"x": 480.23333333333335, "y": 534.9, "w": 62.48333333333334, "h": 62.30000000000007, "seed": 75, "dots": 40, "dotA": 0.4, "clusters": [], "rods": [], "glow": [{"t": "poly", "pts": [[486, 560], [492, 548], [502, 546], [512, 552], [520, 556], [530, 566], [536, 578], [534, 592], [522, 597], [505, 596], [492, 590], [487, 578]], "a": 0.13}]}, {"x": 542.7166666666667, "y": 534.9, "w": 62.48333333333334, "h": 62.30000000000007, "seed": 76, "dots": 40, "dotA": 0.4, "clusters": [], "rods": [], "glow": [{"t": "poly", "pts": [[553, 560], [558, 549], [570, 545], [585, 548], [596, 556], [600, 570], [596, 584], [585, 591], [570, 592], [558, 586], [554, 575]], "a": 0.12}]}, {"x": 230.3, "y": 597.2, "w": 62.48333333333334, "h": 62.799999999999955, "seed": 81, "dots": 50, "dotA": 0.9, "clusters": [], "rods": [], "rw": 3, "glow": [], "green": null, "big": 28, "speck": false}, {"x": 292.78333333333336, "y": 597.2, "w": 62.48333333333334, "h": 62.799999999999955, "seed": 82, "dots": 25, "dotA": 0.9, "clusters": [], "rods": [[[321.5, 621], [321.0, 626.4], [320.0, 631]]], "rw": 5.5, "glow": [], "green": "g", "big": 6, "speck": false}, {"x": 355.2666666666667, "y": 597.2, "w": 62.48333333333334, "h": 62.799999999999955, "seed": 83, "dots": 25, "dotA": 0.9, "clusters": [], "rods": [[[369, 626.4], [377.7, 629.9], [385, 631.5]]], "rw": 5.5, "glow": [], "green": "g", "big": 6, "speck": false}, {"x": 417.75, "y": 597.2, "w": 62.48333333333334, "h": 62.799999999999955, "seed": 84, "dots": 50, "dotA": 0.9, "clusters": [], "rods": [], "rw": 3, "glow": [], "green": null, "big": 30, "speck": false}, {"x": 480.23333333333335, "y": 597.2, "w": 62.48333333333334, "h": 62.799999999999955, "seed": 85, "dots": 35, "dotA": 0.9, "clusters": [], "rods": [[[498.7, 620.8], [506, 625.5], [514, 632]]], "rw": 4.2, "glow": [], "green": null, "big": 8, "speck": true}, {"x": 542.7166666666667, "y": 597.2, "w": 62.48333333333334, "h": 62.799999999999955, "seed": 86, "dots": 40, "dotA": 0.9, "clusters": [], "rods": [[[548.9, 618], [560, 622.5], [575, 627.5], [590, 633], [600.4, 637.6]]], "rw": 4.2, "glow": [], "green": null, "big": 8, "speck": true}]}];
(function(){
const cv=document.getElementById('cv'), ctx=cv.getContext('2d');
ctx.fillStyle='#fff';ctx.fillRect(0,0,cv.width,cv.height);
function interp(pts,v){ // pts sorted by [0]
  if(v<=pts[0][0]) return pts[0][1];
  for(let i=0;i<pts.length-1;i++){ if(v<=pts[i+1][0]){const t=(v-pts[i][0])/(pts[i+1][0]-pts[i][0]);return pts[i][1]+t*(pts[i+1][1]-pts[i][1]);} }
  return pts[pts.length-1][1];
}
function clamp(v,a,b){return v<a?a:(v>b?b:v);}
function ss(t){t=clamp(t,0,1);return t*t*(3-2*t);}
function cmap(E){E=clamp(E,0,1);if(E<0.5){const t=E/0.5;return [255*t,255*t,255];}const t=(E-0.5)/0.5;return [255,255*(1-t),255*(1-t)];}
function heat(x0,y0,w,h,fn){
  const img=ctx.createImageData(w,h);
  for(let y=0;y<h;y++)for(let x=0;x<w;x++){
    const E=fn(x+0.5,y+0.5);const c=cmap(E);const k=(y*w+x)*4;
    img.data[k]=c[0];img.data[k+1]=c[1];img.data[k+2]=c[2];img.data[k+3]=255;}
  ctx.putImageData(img,x0,y0);
}
// ---------- panel a
function segDist(px,py,pts){ // returns [dist, y of nearest]
  let best=1e9,by=0;
  for(let i=0;i<pts.length-1;i++){const ax=pts[i][0],ay=pts[i][1],bx=pts[i+1][0],by2=pts[i+1][1];
    const dx=bx-ax,dy=by2-ay;let t=((px-ax)*dx+(py-ay)*dy)/(dx*dx+dy*dy);t=clamp(t,0,1);
    const qx=ax+t*dx,qy=ay+t*dy;const d=Math.hypot(px-qx,py-qy);if(d<best){best=d;by=qy;}}
  return [best,by];
}
const aC=[[0,9.5],[30,11],[48,13.7],[51.7,16.3],[56,18],[60.5,19.4],[66.6,23.8],[71.8,32.5],[75.8,41.3],[78.8,50],[81,57.5],[88.5,79.8],[97.2,109.5],[106,140]];
const aCpts=aC.map(function(p){return [p[1],p[0]];});
const aR=[[0,28],[19.5,28],[24,29.7],[32,30.9],[37,32.7],[42.3,35.5],[48.3,40.3],[55.6,49.7],[64,62.5],[74,82.9],[87,109.5],[106,135]];
const aRp=[[0,0.93],[30,0.9],[50,0.8],[65,0.62],[80,0.52],[106,0.45]];
const aL=[[0,2.6],[46,3.0],[54,5],[60,10],[66,18],[72,26],[80,34],[110,34]];
const aLr=[[0,10],[45,10],[55,13],[62,17],[70,20],[110,20]];
const aRpts=aR.map(function(p){return [p[1],p[0]];});
heat(27,43,110,107,function(x,y){
  const c=interp(aC,y), r=interp(aR,y);
  const dd=segDist(x,y,aCpts);
  if(x<c){
    const x0=interp([[0,2.8],[40,4.2],[60,5],[106,5]],y);
    const Bs=x<x0?0.97:0.97*Math.exp(-(x-x0)/8);
    const Bc=0.95*(1-Math.exp(-dd[0]/32));
    let B=1-(1-Bs)*(1-Bc);
    B*=Math.pow(Math.min(1,dd[0]/2.5),0.5);
    return 0.5-0.5*Math.min(0.97,B);
  }
  const rp=interp(aRp,y);
  let R;
  if(x<=r){
    const R1=Math.pow(clamp(dd[0]/10,0,1),0.85);
    const dr=segDist(x,y,aRpts)[0];
    const R2=Math.pow(dd[0]/(dd[0]+dr+0.001),0.8);
    const w=ss((y-25)/25);
    R=rp*(R1*(1-w)+R2*w);
  }
  else { R=rp*(1-0.55*clamp((x-r)/Math.max(110-r,1),0,1)); if(y>64){ R=Math.min(R, rp*Math.pow(clamp(dd[0]/interp(aLr,y),0,1),0.85)); } }
  return 0.5+0.5*R;
});
// ---------- panel b
const bR=[[0,110],[7.9,108],[13.1,105.5],[18.4,101],[22.8,96.7],[29.8,93.2],[33.6,88.8],[36.4,82.7],[41.7,74.8],[44.7,70.4],[47.7,66],[50.5,62.5],[53.1,59.1],[56.1,54.7],[58.7,49.8],[61.7,45.9],[64.3,42],[66.9,38.5],[69.7,34.5],[72.7,30.7],[76.2,28.4],[79.7,26.6],[83.2,24.9],[85.8,24.9],[89.3,25.7],[94.6,27.5],[97.8,30.7],[100.7,44],[106,62]];
const bC=[[0,6],[40,6.8],[60,8.1],[80,10.5],[86,11.8],[90,12.7],[95,15],[100,18.5],[102,23],[104,32],[105,45],[105.6,70],[106.2,112]];
const bCpts=bC.map(function(p){return [p[1],p[0]];});
heat(27,210,110,106,function(x,y){
  const c=interp(bC,y), r=interp(bR,y);
  const dd=segDist(x,y,bCpts);
  if(x<c){ const Bmax=0.72+0.25*clamp(y/100,0,1); let B=Bmax*Math.pow(clamp((c-x)/c,0,1),0.7); if(y>95) B=Math.min(B, Bmax*clamp(dd[0]/9,0,1)); return 0.5-0.5*B; }
  let R;
  if(x<=r){ const Lr=Math.max(11,44-0.4*y); R=Math.pow(clamp(dd[0]/Lr,0,1),0.75); }
  else { const u=clamp((x-r)/Math.max(110-r,1),0,1); const v=clamp((y-45)/61,0,1); R=1-0.92*Math.pow(u,0.8)*Math.pow(v,0.85); R=Math.min(R, Math.pow(clamp(dd[0]/14,0,1),0.9)); }
  return 0.5+0.5*clamp(R,0,1);
});
// ---------- panel c
const cYR=[[0,84],[24,86],[26.6,88],[31,91.1],[37.7,94.3],[46.8,96.9],[64.3,99.9],[95.8,102.5],[110,105.1]];
const cS=[[-20,0.1],[0,0.13],[20,0.19],[40,0.3],[55,0.45],[65,0.58],[75,0.74],[84,0.92],[92,1]];
heat(27,390,110,106,function(x,y){
  const c=15.4+(9.6-15.4)*y/106;
  if(x<c){ const dh=c-x; const B=0.93*Math.pow(clamp(dh/c,0,1),0.6); return 0.5-0.5*B; }
  const yr=interp(cYR,x);
  let R;
  if(y>=yr) { R=1; }
  else {
    const s=y-0.3*Math.max(0,x-25);
    R=interp(cS,s);
    if(x<28){ R=Math.max(R, Math.min(1,interp(cS,y)*1.12)); }
    const dv=yr-y; R=Math.max(R, 1-dv/14);
  }
  R*=Math.pow(clamp((x-c)/4,0,1),0.8);
  return 0.5+0.5*clamp(R,0,1);
});
// ---------- blots
function rrect(x,y,w,h,r){ctx.beginPath();ctx.moveTo(x+r,y);ctx.lineTo(x+w-r,y);ctx.quadraticCurveTo(x+w,y,x+w,y+r);ctx.lineTo(x+w,y+h-r);ctx.quadraticCurveTo(x+w,y+h,x+w-r,y+h);ctx.lineTo(x+r,y+h);ctx.quadraticCurveTo(x,y+h,x,y+h-r);ctx.lineTo(x,y+r);ctx.quadraticCurveTo(x,y,x+r,y);ctx.closePath();}
for(const b of BLOTS){
  ctx.save();
  ctx.beginPath();ctx.rect(b.x0,b.y0,b.x1-b.x0,b.y1-b.y0);ctx.clip();
  ctx.fillStyle='rgb('+b.bg+','+b.bg+','+b.bg+')';ctx.fillRect(b.x0,b.y0,b.x1-b.x0,b.y1-b.y0);
  // slight gray shading at edges
  const gr=ctx.createLinearGradient(0,b.y0,0,b.y1);gr.addColorStop(0,'rgba(0,0,0,0.06)');gr.addColorStop(0.2,'rgba(0,0,0,0)');gr.addColorStop(0.8,'rgba(0,0,0,0)');gr.addColorStop(1,'rgba(0,0,0,0.06)');
  ctx.fillStyle=gr;ctx.fillRect(b.x0,b.y0,b.x1-b.x0,b.y1-b.y0);
  for(const bd of b.bands){
    b.lanes.forEach(function(lx,i){
      const a=bd.a[i]; if(a<=0.01) return;
      const h=(Array.isArray(bd.h)?bd.h[i]:bd.h)*1.25, w=(Array.isArray(bd.w)?bd.w[i]:bd.w);
      ctx.filter='blur(1.3px)';
      ctx.fillStyle='rgba(0,0,0,'+Math.min(1,a*0.35)+')';
      ctx.beginPath();ctx.ellipse(lx,bd.y,w/2+0.8,h/2+1.2,0,0,6.2832);ctx.fill();
      ctx.filter='blur(0.7px)';
      ctx.fillStyle='rgba(0,0,0,'+Math.min(1,a*0.9)+')';
      rrect(lx-w/2,bd.y-h/2,w,h,Math.min(h/2,2.5));ctx.fill();
      if(a>0.8){ctx.fill();}
    });
  }
  ctx.filter='none';
  ctx.restore();
}
// ---------- microscopy
function rng(seed){let s=seed>>>0;return function(){s|=0;s=s+0x6D2B79F5|0;let t=Math.imul(s^s>>>15,1|s);t=t+Math.imul(t^t>>>7,61|t)^t;return((t^t>>>14)>>>0)/4294967296;};}
function inShape(g,x,y){
  if(g.t==='ell'||g.t==='ring'){const dx=(x-g.cx)/g.rx,dy=(y-g.cy)/g.ry;const d=dx*dx+dy*dy; if(g.t==='ring') return d<1&&d>0.55; return d<1;}
  if(g.t==='poly'){let ins=false;const p=g.pts;for(let i=0,j=p.length-1;i<p.length;j=i++){if(((p[i][1]>y)!=(p[j][1]>y))&&(x<(p[j][0]-p[i][0])*(y-p[i][1])/(p[j][1]-p[i][1])+p[i][0]))ins=!ins;}
    if(ins&&g.hole){const dx=(x-g.hole[0])/g.hole[2],dy=(y-g.hole[1])/g.hole[3];if(dx*dx+dy*dy<1)return 'hole';}
    return ins;}
  return false;
}
for(const p of MICRO){
  ctx.fillStyle='#000';ctx.fillRect(p.x0,p.y0,p.x1-p.x0,p.y1-p.y0);
  for(const c of p.cells){
    ctx.save();ctx.beginPath();ctx.rect(c.x,c.y,c.w,c.h);ctx.clip();
    const R=rng(c.seed*7919+13);
    // glow shapes: speckle fill
    for(const g of c.glow){
      const img=ctx.getImageData(Math.floor(c.x),Math.floor(c.y),Math.ceil(c.w)+1,Math.ceil(c.h)+1);
      const W=img.width,Hh=img.height;
      for(let yy=0;yy<Hh;yy++)for(let xx=0;xx<W;xx++){
        const X=Math.floor(c.x)+xx+0.5,Y=Math.floor(c.y)+yy+0.5;
        const s=inShape(g,X,Y); if(!s) continue;
        let a=g.a*(g.smooth?(0.75+0.5*R()):(0.35+1.1*R())); if(s==='hole') a*=0.6;
        const k=(yy*W+xx)*4;
        let r=195*a,gg=45*a,bb=205*a;
        if(g.green){ const q=R(); a=g.a*(0.5+1.0*R()); if(q<0.3){r=40*a;gg=220*a;bb=40*a;} else if(q<0.65){r=200*a;gg=200*a;bb=200*a;} else {r=210*a;gg=30*a;bb=215*a;} }
        img.data[k]=Math.min(255,img.data[k]+r);img.data[k+1]=Math.min(255,img.data[k+1]+gg);img.data[k+2]=Math.min(255,img.data[k+2]+bb);
      }
      ctx.putImageData(img,Math.floor(c.x),Math.floor(c.y));
    }
    // random dots
    for(let i=0;i<c.dots;i++){
      const x=c.x+R()*c.w,y=c.y+R()*c.h;const a=c.dotA*(0.25+0.75*R()*R());
      ctx.fillStyle='rgba(225,0,225,'+a+')';const s=0.7+R()*0.8;ctx.fillRect(x,y,s,s);
    }
    for(let i=0;i<(c.big||0);i++){
      const x=c.x+R()*c.w,y=c.y+R()*c.h;const a=0.45+0.55*R();
      ctx.fillStyle='rgba(235,0,235,'+a+')';const s=1.0+R()*1.4;ctx.beginPath();ctx.arc(x,y,s/1.6,0,6.283);ctx.fill();
    }
    for(const cl of c.clusters){ // [cx,cy,rx,ry,n]
      for(let i=0;i<cl[4];i++){const ang=R()*6.283,rr=Math.sqrt(R());const x=cl[0]+Math.cos(ang)*rr*cl[2],y=cl[1]+Math.sin(ang)*rr*cl[3];
        ctx.fillStyle='rgba(215,0,215,'+(0.2+0.55*R())+')';const s=0.7+R()*0.6;ctx.fillRect(x,y,s,s);}
    }
    // rods
    const rw=c.rw||2;
    for(const rod of c.rods){
      ctx.lineCap='round';ctx.lineJoin='round';
      const path=function(ox,oy){ctx.beginPath();ctx.moveTo(rod[0][0]+ox,rod[0][1]+oy);for(let i=1;i<rod.length;i++)ctx.lineTo(rod[i][0]+ox,rod[i][1]+oy);};
      if(c.speck){
        ctx.filter='blur(1.0px)';ctx.strokeStyle='rgba(200,0,200,0.5)';ctx.lineWidth=rw*1.5;path(0,0);ctx.stroke();
        ctx.filter='blur(0.3px)';
        for(let i=0;i<rod.length-1;i++){const dx=rod[i+1][0]-rod[i][0],dy=rod[i+1][1]-rod[i][1];const n=Math.ceil(Math.hypot(dx,dy)*3.5);
          for(let j=0;j<n;j++){const t=R();const x=rod[i][0]+dx*t+(R()-0.5)*rw*0.95,y=rod[i][1]+dy*t+(R()-0.5)*rw*0.95;const q=R();
            ctx.fillStyle=q<0.15?'rgba(255,150,255,0.9)':'rgba(245,0,245,'+(0.5+0.5*R())+')';ctx.beginPath();ctx.arc(x,y,0.45+R()*0.6,0,6.283);ctx.fill();}}
        ctx.filter='none';
      } else {
      ctx.filter='blur(1.2px)';ctx.strokeStyle='rgba(200,0,200,0.45)';ctx.lineWidth=rw*1.9;path(0,0);ctx.stroke();
      ctx.filter='blur(0.45px)';ctx.strokeStyle='rgba(240,0,240,0.95)';ctx.lineWidth=rw;path(0,0);ctx.stroke();
      ctx.filter='none';
      }
      // speckles along
      for(let i=0;i<rod.length-1;i++){const dx=rod[i+1][0]-rod[i][0],dy=rod[i+1][1]-rod[i][1];const n=Math.ceil(Math.hypot(dx,dy)*1.2);
        for(let j=0;j<n;j++){const t=R();const x=rod[i][0]+dx*t+(R()-0.5)*rw*1.7,y=rod[i][1]+dy*t+(R()-0.5)*rw*1.7;ctx.fillStyle='rgba(255,60,255,'+(0.3+0.5*R())+')';ctx.fillRect(x-0.5,y-0.5,1.1,1.1);}}
      if(c.green){ // white/green core
        ctx.filter='blur(1.0px)';
        ctx.strokeStyle='rgba(0,220,0,0.75)';ctx.lineWidth=rw*0.7;path(1.8,-1.2);ctx.stroke();
        ctx.strokeStyle='rgba(255,255,255,0.95)';ctx.lineWidth=rw*0.55;path(0.6,-0.4);ctx.stroke();
        ctx.filter='none';
        for(let j=0;j<25;j++){const x=rod[1][0]+(R()-0.3)*rw*3,y=rod[1][1]+(R()-0.5)*rw*3;ctx.fillStyle='rgba(0,200,0,'+(0.3+0.4*R())+')';ctx.fillRect(x,y,1,1);}
      }
    }
    ctx.restore();
  }
}
})();

</script>
</body></html>
